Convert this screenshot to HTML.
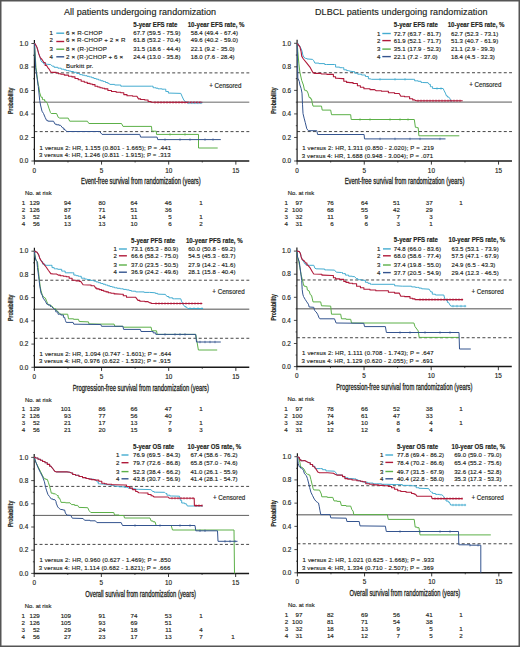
<!DOCTYPE html>
<html><head><meta charset="utf-8"><style>
html,body{margin:0;padding:0;background:#fff;}
svg{display:block;}
text{font-family:"Liberation Sans",sans-serif;fill:#231f20;stroke:#231f20;stroke-width:0.15px;}
</style></head><body>
<svg width="520" height="647" viewBox="0 0 520 647">
<rect x="0" y="0" width="520" height="647" fill="#fff"/>
<g>
<text x="64.00" y="14.50" font-size="9.0" textLength="152.0" lengthAdjust="spacing">All patients undergoing randomization</text>
<text x="315.00" y="14.50" font-size="9.0" textLength="172.5" lengthAdjust="spacing">DLBCL patients undergoing randomization</text>
<text x="133.30" y="26.60" font-size="6.3" font-weight="bold" textLength="44.2" lengthAdjust="spacingAndGlyphs">5-year EFS rate</text>
<text x="187.70" y="26.60" font-size="6.3" font-weight="bold" textLength="56.8" lengthAdjust="spacingAndGlyphs">10-year EFS rate, %</text>
<text x="133.30" y="35.35" font-size="6.0" textLength="47.2" lengthAdjust="spacing">67.7 (59.5 - 75.9)</text>
<text x="190.80" y="35.35" font-size="6.0" textLength="47.2" lengthAdjust="spacing">58.4 (49.4 - 67.4)</text>
<text x="49.60" y="35.35" font-size="6.1">1</text>
<line x1="56.30" y1="33.20" x2="64.20" y2="33.20" stroke="#44acd0" stroke-width="1.4"/>
<text x="66.00" y="35.40" font-size="6.2" textLength="36.5" lengthAdjust="spacing">6 × R-CHOP</text>
<text x="133.30" y="42.35" font-size="6.0" textLength="47.2" lengthAdjust="spacing">61.8 (53.2 - 70.4)</text>
<text x="190.80" y="42.35" font-size="6.0" textLength="47.2" lengthAdjust="spacing">49.6 (40.2 - 59.0)</text>
<text x="49.60" y="42.35" font-size="6.1">2</text>
<line x1="56.30" y1="41.50" x2="64.20" y2="41.50" stroke="#b01a3a" stroke-width="1.4"/>
<text x="66.00" y="42.40" font-size="6.2" textLength="59.4" lengthAdjust="spacing">6 × R-CHOP + 2 × R</text>
<text x="133.30" y="51.35" font-size="6.0" textLength="47.2" lengthAdjust="spacing">31.5 (18.6 - 44.4)</text>
<text x="190.80" y="51.35" font-size="6.0" textLength="43.8" lengthAdjust="spacing">22.1 (9.2 - 35.0)</text>
<text x="49.60" y="51.35" font-size="6.1">3</text>
<line x1="56.30" y1="49.20" x2="64.20" y2="49.20" stroke="#5cb048" stroke-width="1.4"/>
<text x="66.00" y="51.40" font-size="6.2" textLength="40.8" lengthAdjust="spacing">8 × (R-)CHOP</text>
<text x="133.30" y="58.95" font-size="6.0" textLength="47.2" lengthAdjust="spacing">24.4 (13.0 - 35.8)</text>
<text x="190.80" y="58.95" font-size="6.0" textLength="43.8" lengthAdjust="spacing">18.0 (7.6 - 28.4)</text>
<text x="49.60" y="58.95" font-size="6.1">4</text>
<line x1="56.30" y1="56.80" x2="64.20" y2="56.80" stroke="#34548f" stroke-width="1.4"/>
<text x="66.00" y="59.00" font-size="6.2" textLength="57.2" lengthAdjust="spacing">2 × (R-)CHOP + 6 ×</text>
<text x="66.00" y="67.60" font-size="6.2" textLength="27.3" lengthAdjust="spacing">Burkitt pr.</text>
<text x="393.80" y="26.70" font-size="6.3" font-weight="bold" textLength="44.2" lengthAdjust="spacingAndGlyphs">5-year EFS rate</text>
<text x="447.70" y="26.70" font-size="6.3" font-weight="bold" textLength="56.8" lengthAdjust="spacingAndGlyphs">10-year EFS rate, %</text>
<text x="393.80" y="35.65" font-size="6.0" textLength="47.2" lengthAdjust="spacing">72.7 (63.7 - 81.7)</text>
<text x="451.00" y="35.65" font-size="6.0" textLength="47.2" lengthAdjust="spacing">62.7 (52.3 - 73.1)</text>
<text x="376.90" y="35.65" font-size="6.1">1</text>
<line x1="382.30" y1="33.50" x2="390.80" y2="33.50" stroke="#44acd0" stroke-width="1.4"/>
<text x="393.80" y="42.75" font-size="6.0" textLength="47.2" lengthAdjust="spacing">61.9 (52.1 - 71.7)</text>
<text x="451.00" y="42.75" font-size="6.0" textLength="47.2" lengthAdjust="spacing">51.3 (40.7 - 61.9)</text>
<text x="376.90" y="42.75" font-size="6.1">2</text>
<line x1="382.30" y1="40.60" x2="390.80" y2="40.60" stroke="#b01a3a" stroke-width="1.4"/>
<text x="393.80" y="51.25" font-size="6.0" textLength="47.2" lengthAdjust="spacing">35.1 (17.9 - 52.3)</text>
<text x="451.00" y="51.25" font-size="6.0" textLength="43.8" lengthAdjust="spacing">21.1 (2.9 - 39.3)</text>
<text x="376.90" y="51.25" font-size="6.1">3</text>
<line x1="382.30" y1="49.10" x2="390.80" y2="49.10" stroke="#5cb048" stroke-width="1.4"/>
<text x="393.80" y="58.75" font-size="6.0" textLength="43.8" lengthAdjust="spacing">22.1 (7.2 - 37.0)</text>
<text x="451.00" y="58.75" font-size="6.0" textLength="43.8" lengthAdjust="spacing">18.4 (4.5 - 32.3)</text>
<text x="376.90" y="58.75" font-size="6.1">4</text>
<line x1="382.30" y1="56.60" x2="390.80" y2="56.60" stroke="#34548f" stroke-width="1.4"/>
<text x="131.00" y="242.60" font-size="6.3" font-weight="bold" textLength="44.2" lengthAdjust="spacingAndGlyphs">5-year PFS rate</text>
<text x="185.90" y="242.60" font-size="6.3" font-weight="bold" textLength="56.8" lengthAdjust="spacingAndGlyphs">10-year PFS rate, %</text>
<text x="131.00" y="251.15" font-size="6.0" textLength="47.2" lengthAdjust="spacing">73.1 (65.3 - 80.9)</text>
<text x="188.20" y="251.15" font-size="6.0" textLength="47.2" lengthAdjust="spacing">60.0 (50.8 - 69.2)</text>
<text x="113.60" y="251.15" font-size="6.1">1</text>
<line x1="118.90" y1="249.00" x2="126.90" y2="249.00" stroke="#44acd0" stroke-width="1.4"/>
<text x="131.00" y="257.95" font-size="6.0" textLength="47.2" lengthAdjust="spacing">66.6 (58.2 - 75.0)</text>
<text x="188.20" y="257.95" font-size="6.0" textLength="47.2" lengthAdjust="spacing">54.5 (45.3 - 63.7)</text>
<text x="113.60" y="257.95" font-size="6.1">2</text>
<line x1="118.90" y1="255.80" x2="126.90" y2="255.80" stroke="#b01a3a" stroke-width="1.4"/>
<text x="131.00" y="267.15" font-size="6.0" textLength="47.2" lengthAdjust="spacing">37.0 (23.5 - 50.5)</text>
<text x="188.20" y="267.15" font-size="6.0" textLength="47.2" lengthAdjust="spacing">27.9 (14.2 - 41.6)</text>
<text x="113.60" y="267.15" font-size="6.1">3</text>
<line x1="118.90" y1="265.00" x2="126.90" y2="265.00" stroke="#5cb048" stroke-width="1.4"/>
<text x="131.00" y="274.35" font-size="6.0" textLength="47.2" lengthAdjust="spacing">36.9 (24.2 - 49.6)</text>
<text x="188.20" y="274.35" font-size="6.0" textLength="47.2" lengthAdjust="spacing">28.1 (15.8 - 40.4)</text>
<text x="113.60" y="274.35" font-size="6.1">4</text>
<line x1="118.90" y1="272.20" x2="126.90" y2="272.20" stroke="#34548f" stroke-width="1.4"/>
<text x="393.80" y="242.20" font-size="6.3" font-weight="bold" textLength="44.2" lengthAdjust="spacingAndGlyphs">5-year PFS rate</text>
<text x="448.50" y="242.20" font-size="6.3" font-weight="bold" textLength="56.8" lengthAdjust="spacingAndGlyphs">10-year PFS rate, %</text>
<text x="393.80" y="251.05" font-size="6.0" textLength="47.2" lengthAdjust="spacing">74.8 (66.0 - 83.6)</text>
<text x="451.50" y="251.05" font-size="6.0" textLength="47.2" lengthAdjust="spacing">63.5 (53.1 - 73.9)</text>
<text x="376.90" y="251.05" font-size="6.1">1</text>
<line x1="383.00" y1="248.90" x2="390.80" y2="248.90" stroke="#44acd0" stroke-width="1.4"/>
<text x="393.80" y="257.95" font-size="6.0" textLength="47.2" lengthAdjust="spacing">68.0 (58.6 - 77.4)</text>
<text x="451.50" y="257.95" font-size="6.0" textLength="47.2" lengthAdjust="spacing">57.5 (47.1 - 67.9)</text>
<text x="376.90" y="257.95" font-size="6.1">2</text>
<line x1="383.00" y1="255.80" x2="390.80" y2="255.80" stroke="#b01a3a" stroke-width="1.4"/>
<text x="393.80" y="267.15" font-size="6.0" textLength="47.2" lengthAdjust="spacing">37.4 (19.8 - 55.0)</text>
<text x="451.50" y="267.15" font-size="6.0" textLength="43.8" lengthAdjust="spacing">24.9 (6.5 - 43.3)</text>
<text x="376.90" y="267.15" font-size="6.1">3</text>
<line x1="383.00" y1="265.00" x2="390.80" y2="265.00" stroke="#5cb048" stroke-width="1.4"/>
<text x="393.80" y="274.75" font-size="6.0" textLength="47.2" lengthAdjust="spacing">37.7 (20.5 - 54.9)</text>
<text x="451.50" y="274.75" font-size="6.0" textLength="47.2" lengthAdjust="spacing">29.4 (12.3 - 46.5)</text>
<text x="376.90" y="274.75" font-size="6.1">4</text>
<line x1="383.00" y1="272.60" x2="390.80" y2="272.60" stroke="#34548f" stroke-width="1.4"/>
<text x="133.00" y="448.70" font-size="6.3" font-weight="bold" textLength="41.2" lengthAdjust="spacingAndGlyphs">5-year OS rate</text>
<text x="187.60" y="448.70" font-size="6.3" font-weight="bold" textLength="53.7" lengthAdjust="spacingAndGlyphs">10-year OS rate, %</text>
<text x="133.00" y="457.15" font-size="6.0" textLength="47.2" lengthAdjust="spacing">76.9 (69.5 - 84.3)</text>
<text x="190.40" y="457.15" font-size="6.0" textLength="47.2" lengthAdjust="spacing">67.4 (58.6 - 76.2)</text>
<text x="116.00" y="457.15" font-size="6.1">1</text>
<line x1="121.50" y1="455.00" x2="128.50" y2="455.00" stroke="#44acd0" stroke-width="1.4"/>
<text x="133.00" y="464.85" font-size="6.0" textLength="47.2" lengthAdjust="spacing">79.7 (72.6 - 86.8)</text>
<text x="190.40" y="464.85" font-size="6.0" textLength="47.2" lengthAdjust="spacing">65.8 (57.0 - 74.6)</text>
<text x="116.00" y="464.85" font-size="6.1">2</text>
<line x1="121.50" y1="462.70" x2="128.50" y2="462.70" stroke="#b01a3a" stroke-width="1.4"/>
<text x="133.00" y="473.75" font-size="6.0" textLength="47.2" lengthAdjust="spacing">52.3 (38.4 - 66.2)</text>
<text x="190.40" y="473.75" font-size="6.0" textLength="47.2" lengthAdjust="spacing">41.0 (26.1 - 55.9)</text>
<text x="116.00" y="473.75" font-size="6.1">3</text>
<line x1="121.50" y1="471.60" x2="128.50" y2="471.60" stroke="#5cb048" stroke-width="1.4"/>
<text x="133.00" y="480.95" font-size="6.0" textLength="47.2" lengthAdjust="spacing">43.8 (30.7 - 56.9)</text>
<text x="190.40" y="480.95" font-size="6.0" textLength="47.2" lengthAdjust="spacing">41.4 (28.1 - 54.7)</text>
<text x="116.00" y="480.95" font-size="6.1">4</text>
<line x1="121.50" y1="478.80" x2="128.50" y2="478.80" stroke="#34548f" stroke-width="1.4"/>
<text x="396.90" y="448.70" font-size="6.3" font-weight="bold" textLength="41.2" lengthAdjust="spacingAndGlyphs">5-year OS rate</text>
<text x="451.50" y="448.70" font-size="6.3" font-weight="bold" textLength="53.7" lengthAdjust="spacingAndGlyphs">10-year OS rate, %</text>
<text x="396.90" y="457.15" font-size="6.0" textLength="47.2" lengthAdjust="spacing">77.8 (69.4 - 86.2)</text>
<text x="454.20" y="457.15" font-size="6.0" textLength="47.2" lengthAdjust="spacing">69.0 (59.0 - 79.0)</text>
<text x="380.00" y="457.15" font-size="6.1">1</text>
<line x1="385.40" y1="455.00" x2="393.10" y2="455.00" stroke="#44acd0" stroke-width="1.4"/>
<text x="396.90" y="464.55" font-size="6.0" textLength="47.2" lengthAdjust="spacing">78.4 (70.2 - 86.6)</text>
<text x="454.20" y="464.55" font-size="6.0" textLength="47.2" lengthAdjust="spacing">65.4 (55.2 - 75.6)</text>
<text x="380.00" y="464.55" font-size="6.1">2</text>
<line x1="385.40" y1="462.40" x2="393.10" y2="462.40" stroke="#b01a3a" stroke-width="1.4"/>
<text x="396.90" y="473.65" font-size="6.0" textLength="47.2" lengthAdjust="spacing">49.7 (31.5 - 67.9)</text>
<text x="454.20" y="473.65" font-size="6.0" textLength="47.2" lengthAdjust="spacing">32.6 (12.4 - 52.8)</text>
<text x="380.00" y="473.65" font-size="6.1">3</text>
<line x1="385.40" y1="471.50" x2="393.10" y2="471.50" stroke="#5cb048" stroke-width="1.4"/>
<text x="396.90" y="480.95" font-size="6.0" textLength="47.2" lengthAdjust="spacing">40.4 (22.8 - 58.0)</text>
<text x="454.20" y="480.95" font-size="6.0" textLength="47.2" lengthAdjust="spacing">35.3 (17.3 - 53.3)</text>
<text x="380.00" y="480.95" font-size="6.1">4</text>
<line x1="385.40" y1="478.80" x2="393.10" y2="478.80" stroke="#34548f" stroke-width="1.4"/>
<text x="209.20" y="87.80" font-size="6.7" textLength="32.3" lengthAdjust="spacingAndGlyphs">+ Censored</text>
<text x="469.20" y="87.30" font-size="6.7" textLength="32.3" lengthAdjust="spacingAndGlyphs">+ Censored</text>
<text x="212.30" y="294.30" font-size="6.7" textLength="32.3" lengthAdjust="spacingAndGlyphs">+ Censored</text>
<text x="471.50" y="293.90" font-size="6.7" textLength="32.3" lengthAdjust="spacingAndGlyphs">+ Censored</text>
<text x="213.00" y="500.40" font-size="6.7" textLength="32.3" lengthAdjust="spacingAndGlyphs">+ Censored</text>
<text x="471.50" y="499.80" font-size="6.7" textLength="32.3" lengthAdjust="spacingAndGlyphs">+ Censored</text>
<line x1="34.40" y1="102.25" x2="249.28" y2="102.25" stroke="#9a9a9a" stroke-width="1.6"/>
<line x1="34.40" y1="72.88" x2="249.28" y2="72.88" stroke="#474747" stroke-width="1.0" stroke-dasharray="3 2.3"/>
<line x1="34.40" y1="131.62" x2="249.28" y2="131.62" stroke="#474747" stroke-width="1.0" stroke-dasharray="3 2.3"/>
<line x1="34.40" y1="161.00" x2="34.40" y2="40.00" stroke="#1a1a1a" stroke-width="1.2"/>
<line x1="33.90" y1="161.00" x2="249.28" y2="161.00" stroke="#1a1a1a" stroke-width="1.5"/>
<line x1="31.40" y1="161.00" x2="34.40" y2="161.00" stroke="#222" stroke-width="0.8"/>
<text x="28.40" y="163.25" font-size="6.4" text-anchor="end">0.0</text>
<line x1="31.40" y1="137.50" x2="34.40" y2="137.50" stroke="#222" stroke-width="0.8"/>
<text x="28.40" y="139.75" font-size="6.4" text-anchor="end">0.2</text>
<line x1="31.40" y1="114.00" x2="34.40" y2="114.00" stroke="#222" stroke-width="0.8"/>
<text x="28.40" y="116.25" font-size="6.4" text-anchor="end">0.4</text>
<line x1="31.40" y1="90.50" x2="34.40" y2="90.50" stroke="#222" stroke-width="0.8"/>
<text x="28.40" y="92.75" font-size="6.4" text-anchor="end">0.6</text>
<line x1="31.40" y1="67.00" x2="34.40" y2="67.00" stroke="#222" stroke-width="0.8"/>
<text x="28.40" y="69.25" font-size="6.4" text-anchor="end">0.8</text>
<line x1="31.40" y1="43.50" x2="34.40" y2="43.50" stroke="#222" stroke-width="0.8"/>
<text x="28.40" y="45.75" font-size="6.4" text-anchor="end">1.0</text>
<line x1="33.10" y1="149.25" x2="34.40" y2="149.25" stroke="#222" stroke-width="0.8"/>
<line x1="33.10" y1="125.75" x2="34.40" y2="125.75" stroke="#222" stroke-width="0.8"/>
<line x1="33.10" y1="102.25" x2="34.40" y2="102.25" stroke="#222" stroke-width="0.8"/>
<line x1="33.10" y1="78.75" x2="34.40" y2="78.75" stroke="#222" stroke-width="0.8"/>
<line x1="33.10" y1="55.25" x2="34.40" y2="55.25" stroke="#222" stroke-width="0.8"/>
<line x1="34.40" y1="161.00" x2="34.40" y2="164.60" stroke="#222" stroke-width="0.9"/>
<text x="34.40" y="172.60" font-size="6.4" text-anchor="middle">0</text>
<line x1="101.55" y1="161.00" x2="101.55" y2="164.60" stroke="#222" stroke-width="0.9"/>
<text x="101.55" y="172.60" font-size="6.4" text-anchor="middle">5</text>
<line x1="168.70" y1="161.00" x2="168.70" y2="164.60" stroke="#222" stroke-width="0.9"/>
<text x="168.70" y="172.60" font-size="6.4" text-anchor="middle">10</text>
<line x1="235.85" y1="161.00" x2="235.85" y2="164.60" stroke="#222" stroke-width="0.9"/>
<text x="235.85" y="172.60" font-size="6.4" text-anchor="middle">15</text>
<line x1="67.97" y1="161.00" x2="67.97" y2="162.50" stroke="#222" stroke-width="0.8"/>
<line x1="135.12" y1="161.00" x2="135.12" y2="162.50" stroke="#222" stroke-width="0.8"/>
<line x1="202.28" y1="161.00" x2="202.28" y2="162.50" stroke="#222" stroke-width="0.8"/>
<text x="0" y="0" font-size="7.4" text-anchor="middle" textLength="26.4" lengthAdjust="spacingAndGlyphs" transform="translate(13.00,100.75) rotate(-90)" font-weight="bold">Probability</text>
<text x="140.84" y="184.40" font-size="8.9" text-anchor="middle" textLength="119.7" lengthAdjust="spacingAndGlyphs" style="stroke-width:0.3px">Event-free survival from randomization (years)</text>
<line x1="297.10" y1="102.15" x2="511.98" y2="102.15" stroke="#a0a0a0" stroke-width="1.8"/>
<line x1="297.10" y1="72.72" x2="511.98" y2="72.72" stroke="#474747" stroke-width="1.0" stroke-dasharray="3 2.3"/>
<line x1="297.10" y1="131.57" x2="511.98" y2="131.57" stroke="#474747" stroke-width="1.0" stroke-dasharray="3 2.3"/>
<line x1="297.10" y1="161.00" x2="297.10" y2="39.80" stroke="#1a1a1a" stroke-width="1.2"/>
<line x1="296.60" y1="161.00" x2="511.98" y2="161.00" stroke="#1a1a1a" stroke-width="1.5"/>
<line x1="294.10" y1="161.00" x2="297.10" y2="161.00" stroke="#222" stroke-width="0.8"/>
<text x="291.10" y="163.25" font-size="6.4" text-anchor="end">0.0</text>
<line x1="294.10" y1="137.46" x2="297.10" y2="137.46" stroke="#222" stroke-width="0.8"/>
<text x="291.10" y="139.71" font-size="6.4" text-anchor="end">0.2</text>
<line x1="294.10" y1="113.92" x2="297.10" y2="113.92" stroke="#222" stroke-width="0.8"/>
<text x="291.10" y="116.17" font-size="6.4" text-anchor="end">0.4</text>
<line x1="294.10" y1="90.38" x2="297.10" y2="90.38" stroke="#222" stroke-width="0.8"/>
<text x="291.10" y="92.63" font-size="6.4" text-anchor="end">0.6</text>
<line x1="294.10" y1="66.84" x2="297.10" y2="66.84" stroke="#222" stroke-width="0.8"/>
<text x="291.10" y="69.09" font-size="6.4" text-anchor="end">0.8</text>
<line x1="294.10" y1="43.30" x2="297.10" y2="43.30" stroke="#222" stroke-width="0.8"/>
<text x="291.10" y="45.55" font-size="6.4" text-anchor="end">1.0</text>
<line x1="295.80" y1="149.23" x2="297.10" y2="149.23" stroke="#222" stroke-width="0.8"/>
<line x1="295.80" y1="125.69" x2="297.10" y2="125.69" stroke="#222" stroke-width="0.8"/>
<line x1="295.80" y1="102.15" x2="297.10" y2="102.15" stroke="#222" stroke-width="0.8"/>
<line x1="295.80" y1="78.61" x2="297.10" y2="78.61" stroke="#222" stroke-width="0.8"/>
<line x1="295.80" y1="55.07" x2="297.10" y2="55.07" stroke="#222" stroke-width="0.8"/>
<line x1="297.10" y1="161.00" x2="297.10" y2="164.60" stroke="#222" stroke-width="0.9"/>
<text x="297.10" y="172.60" font-size="6.4" text-anchor="middle">0</text>
<line x1="364.25" y1="161.00" x2="364.25" y2="164.60" stroke="#222" stroke-width="0.9"/>
<text x="364.25" y="172.60" font-size="6.4" text-anchor="middle">5</text>
<line x1="431.40" y1="161.00" x2="431.40" y2="164.60" stroke="#222" stroke-width="0.9"/>
<text x="431.40" y="172.60" font-size="6.4" text-anchor="middle">10</text>
<line x1="498.55" y1="161.00" x2="498.55" y2="164.60" stroke="#222" stroke-width="0.9"/>
<text x="498.55" y="172.60" font-size="6.4" text-anchor="middle">15</text>
<line x1="330.68" y1="161.00" x2="330.68" y2="162.50" stroke="#222" stroke-width="0.8"/>
<line x1="397.83" y1="161.00" x2="397.83" y2="162.50" stroke="#222" stroke-width="0.8"/>
<line x1="464.98" y1="161.00" x2="464.98" y2="162.50" stroke="#222" stroke-width="0.8"/>
<text x="0" y="0" font-size="7.4" text-anchor="middle" textLength="26.4" lengthAdjust="spacingAndGlyphs" transform="translate(275.70,100.65) rotate(-90)" font-weight="bold">Probability</text>
<text x="404.54" y="184.40" font-size="8.9" text-anchor="middle" textLength="119.7" lengthAdjust="spacingAndGlyphs" style="stroke-width:0.3px">Event-free survival from randomization (years)</text>
<line x1="34.40" y1="309.25" x2="249.28" y2="309.25" stroke="#8a8a8a" stroke-width="1.4"/>
<line x1="34.40" y1="280.23" x2="249.28" y2="280.23" stroke="#474747" stroke-width="1.0" stroke-dasharray="3 2.3"/>
<line x1="34.40" y1="338.27" x2="249.28" y2="338.27" stroke="#474747" stroke-width="1.0" stroke-dasharray="3 2.3"/>
<line x1="34.40" y1="367.30" x2="34.40" y2="247.70" stroke="#1a1a1a" stroke-width="1.2"/>
<line x1="33.90" y1="367.30" x2="249.28" y2="367.30" stroke="#1a1a1a" stroke-width="1.5"/>
<line x1="31.40" y1="367.30" x2="34.40" y2="367.30" stroke="#222" stroke-width="0.8"/>
<text x="28.40" y="369.55" font-size="6.4" text-anchor="end">0.0</text>
<line x1="31.40" y1="344.08" x2="34.40" y2="344.08" stroke="#222" stroke-width="0.8"/>
<text x="28.40" y="346.33" font-size="6.4" text-anchor="end">0.2</text>
<line x1="31.40" y1="320.86" x2="34.40" y2="320.86" stroke="#222" stroke-width="0.8"/>
<text x="28.40" y="323.11" font-size="6.4" text-anchor="end">0.4</text>
<line x1="31.40" y1="297.64" x2="34.40" y2="297.64" stroke="#222" stroke-width="0.8"/>
<text x="28.40" y="299.89" font-size="6.4" text-anchor="end">0.6</text>
<line x1="31.40" y1="274.42" x2="34.40" y2="274.42" stroke="#222" stroke-width="0.8"/>
<text x="28.40" y="276.67" font-size="6.4" text-anchor="end">0.8</text>
<line x1="31.40" y1="251.20" x2="34.40" y2="251.20" stroke="#222" stroke-width="0.8"/>
<text x="28.40" y="253.45" font-size="6.4" text-anchor="end">1.0</text>
<line x1="33.10" y1="355.69" x2="34.40" y2="355.69" stroke="#222" stroke-width="0.8"/>
<line x1="33.10" y1="332.47" x2="34.40" y2="332.47" stroke="#222" stroke-width="0.8"/>
<line x1="33.10" y1="309.25" x2="34.40" y2="309.25" stroke="#222" stroke-width="0.8"/>
<line x1="33.10" y1="286.03" x2="34.40" y2="286.03" stroke="#222" stroke-width="0.8"/>
<line x1="33.10" y1="262.81" x2="34.40" y2="262.81" stroke="#222" stroke-width="0.8"/>
<line x1="34.40" y1="367.30" x2="34.40" y2="370.90" stroke="#222" stroke-width="0.9"/>
<text x="34.40" y="378.90" font-size="6.4" text-anchor="middle">0</text>
<line x1="101.55" y1="367.30" x2="101.55" y2="370.90" stroke="#222" stroke-width="0.9"/>
<text x="101.55" y="378.90" font-size="6.4" text-anchor="middle">5</text>
<line x1="168.70" y1="367.30" x2="168.70" y2="370.90" stroke="#222" stroke-width="0.9"/>
<text x="168.70" y="378.90" font-size="6.4" text-anchor="middle">10</text>
<line x1="235.85" y1="367.30" x2="235.85" y2="370.90" stroke="#222" stroke-width="0.9"/>
<text x="235.85" y="378.90" font-size="6.4" text-anchor="middle">15</text>
<line x1="67.97" y1="367.30" x2="67.97" y2="368.80" stroke="#222" stroke-width="0.8"/>
<line x1="135.12" y1="367.30" x2="135.12" y2="368.80" stroke="#222" stroke-width="0.8"/>
<line x1="202.28" y1="367.30" x2="202.28" y2="368.80" stroke="#222" stroke-width="0.8"/>
<text x="0" y="0" font-size="7.4" text-anchor="middle" textLength="26.4" lengthAdjust="spacingAndGlyphs" transform="translate(13.00,307.75) rotate(-90)" font-weight="bold">Probability</text>
<text x="140.84" y="390.70" font-size="8.9" text-anchor="middle" textLength="136.3" lengthAdjust="spacingAndGlyphs" style="stroke-width:0.3px">Progression-free survival from randomization (years)</text>
<line x1="296.90" y1="308.85" x2="511.78" y2="308.85" stroke="#8a8a8a" stroke-width="1.5"/>
<line x1="296.90" y1="279.98" x2="511.78" y2="279.98" stroke="#474747" stroke-width="1.0" stroke-dasharray="3 2.3"/>
<line x1="296.90" y1="337.73" x2="511.78" y2="337.73" stroke="#474747" stroke-width="1.0" stroke-dasharray="3 2.3"/>
<line x1="296.90" y1="366.60" x2="296.90" y2="247.60" stroke="#1a1a1a" stroke-width="1.2"/>
<line x1="296.40" y1="366.60" x2="511.78" y2="366.60" stroke="#1a1a1a" stroke-width="1.5"/>
<line x1="293.90" y1="366.60" x2="296.90" y2="366.60" stroke="#222" stroke-width="0.8"/>
<text x="290.90" y="368.85" font-size="6.4" text-anchor="end">0.0</text>
<line x1="293.90" y1="343.50" x2="296.90" y2="343.50" stroke="#222" stroke-width="0.8"/>
<text x="290.90" y="345.75" font-size="6.4" text-anchor="end">0.2</text>
<line x1="293.90" y1="320.40" x2="296.90" y2="320.40" stroke="#222" stroke-width="0.8"/>
<text x="290.90" y="322.65" font-size="6.4" text-anchor="end">0.4</text>
<line x1="293.90" y1="297.30" x2="296.90" y2="297.30" stroke="#222" stroke-width="0.8"/>
<text x="290.90" y="299.55" font-size="6.4" text-anchor="end">0.6</text>
<line x1="293.90" y1="274.20" x2="296.90" y2="274.20" stroke="#222" stroke-width="0.8"/>
<text x="290.90" y="276.45" font-size="6.4" text-anchor="end">0.8</text>
<line x1="293.90" y1="251.10" x2="296.90" y2="251.10" stroke="#222" stroke-width="0.8"/>
<text x="290.90" y="253.35" font-size="6.4" text-anchor="end">1.0</text>
<line x1="295.60" y1="355.05" x2="296.90" y2="355.05" stroke="#222" stroke-width="0.8"/>
<line x1="295.60" y1="331.95" x2="296.90" y2="331.95" stroke="#222" stroke-width="0.8"/>
<line x1="295.60" y1="308.85" x2="296.90" y2="308.85" stroke="#222" stroke-width="0.8"/>
<line x1="295.60" y1="285.75" x2="296.90" y2="285.75" stroke="#222" stroke-width="0.8"/>
<line x1="295.60" y1="262.65" x2="296.90" y2="262.65" stroke="#222" stroke-width="0.8"/>
<line x1="296.90" y1="366.60" x2="296.90" y2="370.20" stroke="#222" stroke-width="0.9"/>
<text x="296.90" y="378.20" font-size="6.4" text-anchor="middle">0</text>
<line x1="364.05" y1="366.60" x2="364.05" y2="370.20" stroke="#222" stroke-width="0.9"/>
<text x="364.05" y="378.20" font-size="6.4" text-anchor="middle">5</text>
<line x1="431.20" y1="366.60" x2="431.20" y2="370.20" stroke="#222" stroke-width="0.9"/>
<text x="431.20" y="378.20" font-size="6.4" text-anchor="middle">10</text>
<line x1="498.35" y1="366.60" x2="498.35" y2="370.20" stroke="#222" stroke-width="0.9"/>
<text x="498.35" y="378.20" font-size="6.4" text-anchor="middle">15</text>
<line x1="330.47" y1="366.60" x2="330.47" y2="368.10" stroke="#222" stroke-width="0.8"/>
<line x1="397.62" y1="366.60" x2="397.62" y2="368.10" stroke="#222" stroke-width="0.8"/>
<line x1="464.77" y1="366.60" x2="464.77" y2="368.10" stroke="#222" stroke-width="0.8"/>
<text x="0" y="0" font-size="7.4" text-anchor="middle" textLength="26.4" lengthAdjust="spacingAndGlyphs" transform="translate(275.50,307.35) rotate(-90)" font-weight="bold">Probability</text>
<text x="404.34" y="390.00" font-size="8.9" text-anchor="middle" textLength="136.3" lengthAdjust="spacingAndGlyphs" style="stroke-width:0.3px">Progression-free survival from randomization (years)</text>
<line x1="34.20" y1="515.40" x2="249.08" y2="515.40" stroke="#606060" stroke-width="1.0"/>
<line x1="34.20" y1="486.40" x2="249.08" y2="486.40" stroke="#474747" stroke-width="1.0" stroke-dasharray="3 2.3"/>
<line x1="34.20" y1="544.40" x2="249.08" y2="544.40" stroke="#474747" stroke-width="1.0" stroke-dasharray="3 2.3"/>
<line x1="34.20" y1="573.40" x2="34.20" y2="453.90" stroke="#1a1a1a" stroke-width="1.2"/>
<line x1="33.70" y1="573.40" x2="249.08" y2="573.40" stroke="#1a1a1a" stroke-width="1.5"/>
<line x1="31.20" y1="573.40" x2="34.20" y2="573.40" stroke="#222" stroke-width="0.8"/>
<text x="28.20" y="575.65" font-size="6.4" text-anchor="end">0.0</text>
<line x1="31.20" y1="550.20" x2="34.20" y2="550.20" stroke="#222" stroke-width="0.8"/>
<text x="28.20" y="552.45" font-size="6.4" text-anchor="end">0.2</text>
<line x1="31.20" y1="527.00" x2="34.20" y2="527.00" stroke="#222" stroke-width="0.8"/>
<text x="28.20" y="529.25" font-size="6.4" text-anchor="end">0.4</text>
<line x1="31.20" y1="503.80" x2="34.20" y2="503.80" stroke="#222" stroke-width="0.8"/>
<text x="28.20" y="506.05" font-size="6.4" text-anchor="end">0.6</text>
<line x1="31.20" y1="480.60" x2="34.20" y2="480.60" stroke="#222" stroke-width="0.8"/>
<text x="28.20" y="482.85" font-size="6.4" text-anchor="end">0.8</text>
<line x1="31.20" y1="457.40" x2="34.20" y2="457.40" stroke="#222" stroke-width="0.8"/>
<text x="28.20" y="459.65" font-size="6.4" text-anchor="end">1.0</text>
<line x1="32.90" y1="561.80" x2="34.20" y2="561.80" stroke="#222" stroke-width="0.8"/>
<line x1="32.90" y1="538.60" x2="34.20" y2="538.60" stroke="#222" stroke-width="0.8"/>
<line x1="32.90" y1="515.40" x2="34.20" y2="515.40" stroke="#222" stroke-width="0.8"/>
<line x1="32.90" y1="492.20" x2="34.20" y2="492.20" stroke="#222" stroke-width="0.8"/>
<line x1="32.90" y1="469.00" x2="34.20" y2="469.00" stroke="#222" stroke-width="0.8"/>
<line x1="34.20" y1="573.40" x2="34.20" y2="577.00" stroke="#222" stroke-width="0.9"/>
<text x="34.20" y="585.00" font-size="6.4" text-anchor="middle">0</text>
<line x1="101.35" y1="573.40" x2="101.35" y2="577.00" stroke="#222" stroke-width="0.9"/>
<text x="101.35" y="585.00" font-size="6.4" text-anchor="middle">5</text>
<line x1="168.50" y1="573.40" x2="168.50" y2="577.00" stroke="#222" stroke-width="0.9"/>
<text x="168.50" y="585.00" font-size="6.4" text-anchor="middle">10</text>
<line x1="235.65" y1="573.40" x2="235.65" y2="577.00" stroke="#222" stroke-width="0.9"/>
<text x="235.65" y="585.00" font-size="6.4" text-anchor="middle">15</text>
<line x1="67.78" y1="573.40" x2="67.78" y2="574.90" stroke="#222" stroke-width="0.8"/>
<line x1="134.93" y1="573.40" x2="134.93" y2="574.90" stroke="#222" stroke-width="0.8"/>
<line x1="202.07" y1="573.40" x2="202.07" y2="574.90" stroke="#222" stroke-width="0.8"/>
<text x="0" y="0" font-size="7.4" text-anchor="middle" textLength="26.4" lengthAdjust="spacingAndGlyphs" transform="translate(12.80,513.90) rotate(-90)" font-weight="bold">Probability</text>
<text x="140.64" y="596.80" font-size="8.9" text-anchor="middle" textLength="110.8" lengthAdjust="spacingAndGlyphs" style="stroke-width:0.3px">Overall survival from randomization (years)</text>
<line x1="297.40" y1="514.75" x2="512.28" y2="514.75" stroke="#8a8a8a" stroke-width="1.5"/>
<line x1="297.40" y1="485.72" x2="512.28" y2="485.72" stroke="#474747" stroke-width="1.0" stroke-dasharray="3 2.3"/>
<line x1="297.40" y1="543.77" x2="512.28" y2="543.77" stroke="#474747" stroke-width="1.0" stroke-dasharray="3 2.3"/>
<line x1="297.40" y1="572.80" x2="297.40" y2="453.20" stroke="#1a1a1a" stroke-width="1.2"/>
<line x1="296.90" y1="572.80" x2="512.28" y2="572.80" stroke="#1a1a1a" stroke-width="1.5"/>
<line x1="294.40" y1="572.80" x2="297.40" y2="572.80" stroke="#222" stroke-width="0.8"/>
<text x="291.40" y="575.05" font-size="6.4" text-anchor="end">0.0</text>
<line x1="294.40" y1="549.58" x2="297.40" y2="549.58" stroke="#222" stroke-width="0.8"/>
<text x="291.40" y="551.83" font-size="6.4" text-anchor="end">0.2</text>
<line x1="294.40" y1="526.36" x2="297.40" y2="526.36" stroke="#222" stroke-width="0.8"/>
<text x="291.40" y="528.61" font-size="6.4" text-anchor="end">0.4</text>
<line x1="294.40" y1="503.14" x2="297.40" y2="503.14" stroke="#222" stroke-width="0.8"/>
<text x="291.40" y="505.39" font-size="6.4" text-anchor="end">0.6</text>
<line x1="294.40" y1="479.92" x2="297.40" y2="479.92" stroke="#222" stroke-width="0.8"/>
<text x="291.40" y="482.17" font-size="6.4" text-anchor="end">0.8</text>
<line x1="294.40" y1="456.70" x2="297.40" y2="456.70" stroke="#222" stroke-width="0.8"/>
<text x="291.40" y="458.95" font-size="6.4" text-anchor="end">1.0</text>
<line x1="296.10" y1="561.19" x2="297.40" y2="561.19" stroke="#222" stroke-width="0.8"/>
<line x1="296.10" y1="537.97" x2="297.40" y2="537.97" stroke="#222" stroke-width="0.8"/>
<line x1="296.10" y1="514.75" x2="297.40" y2="514.75" stroke="#222" stroke-width="0.8"/>
<line x1="296.10" y1="491.53" x2="297.40" y2="491.53" stroke="#222" stroke-width="0.8"/>
<line x1="296.10" y1="468.31" x2="297.40" y2="468.31" stroke="#222" stroke-width="0.8"/>
<line x1="297.40" y1="572.80" x2="297.40" y2="576.40" stroke="#222" stroke-width="0.9"/>
<text x="297.40" y="584.40" font-size="6.4" text-anchor="middle">0</text>
<line x1="364.55" y1="572.80" x2="364.55" y2="576.40" stroke="#222" stroke-width="0.9"/>
<text x="364.55" y="584.40" font-size="6.4" text-anchor="middle">5</text>
<line x1="431.70" y1="572.80" x2="431.70" y2="576.40" stroke="#222" stroke-width="0.9"/>
<text x="431.70" y="584.40" font-size="6.4" text-anchor="middle">10</text>
<line x1="498.85" y1="572.80" x2="498.85" y2="576.40" stroke="#222" stroke-width="0.9"/>
<text x="498.85" y="584.40" font-size="6.4" text-anchor="middle">15</text>
<line x1="330.97" y1="572.80" x2="330.97" y2="574.30" stroke="#222" stroke-width="0.8"/>
<line x1="398.12" y1="572.80" x2="398.12" y2="574.30" stroke="#222" stroke-width="0.8"/>
<line x1="465.27" y1="572.80" x2="465.27" y2="574.30" stroke="#222" stroke-width="0.8"/>
<text x="0" y="0" font-size="7.4" text-anchor="middle" textLength="26.4" lengthAdjust="spacingAndGlyphs" transform="translate(276.00,513.25) rotate(-90)" font-weight="bold">Probability</text>
<text x="404.84" y="596.20" font-size="8.9" text-anchor="middle" textLength="110.8" lengthAdjust="spacingAndGlyphs" style="stroke-width:0.3px">Overall survival from randomization (years)</text>
<text x="39.60" y="150.15" font-size="6.0" textLength="131.5" lengthAdjust="spacing">1 versus 2: HR, 1.155 (0.801 - 1.665); P = .441</text>
<text x="39.00" y="157.45" font-size="6.0" textLength="131.5" lengthAdjust="spacing">3 versus 4: HR, 1.246 (0.811 - 1.915); P = .313</text>
<text x="25.00" y="195.30" font-size="6.2" textLength="26.6" lengthAdjust="spacingAndGlyphs">No. at risk</text>
<text x="21.70" y="205.10" font-size="6.2">1</text>
<text x="39.80" y="205.10" font-size="6.2" text-anchor="end">129</text>
<text x="71.00" y="205.10" font-size="6.2" text-anchor="end">94</text>
<text x="105.50" y="205.10" font-size="6.2" text-anchor="end">80</text>
<text x="137.50" y="205.10" font-size="6.2" text-anchor="end">64</text>
<text x="171.60" y="205.10" font-size="6.2" text-anchor="end">46</text>
<text x="202.70" y="205.10" font-size="6.2" text-anchor="end">1</text>
<text x="21.70" y="212.05" font-size="6.2">2</text>
<text x="39.80" y="212.05" font-size="6.2" text-anchor="end">126</text>
<text x="71.00" y="212.05" font-size="6.2" text-anchor="end">87</text>
<text x="105.50" y="212.05" font-size="6.2" text-anchor="end">71</text>
<text x="137.50" y="212.05" font-size="6.2" text-anchor="end">51</text>
<text x="171.60" y="212.05" font-size="6.2" text-anchor="end">36</text>
<text x="21.70" y="219.00" font-size="6.2">3</text>
<text x="39.80" y="219.00" font-size="6.2" text-anchor="end">52</text>
<text x="71.00" y="219.00" font-size="6.2" text-anchor="end">16</text>
<text x="105.50" y="219.00" font-size="6.2" text-anchor="end">14</text>
<text x="137.50" y="219.00" font-size="6.2" text-anchor="end">11</text>
<text x="171.60" y="219.00" font-size="6.2" text-anchor="end">5</text>
<text x="202.70" y="219.00" font-size="6.2" text-anchor="end">1</text>
<text x="21.70" y="225.95" font-size="6.2">4</text>
<text x="39.80" y="225.95" font-size="6.2" text-anchor="end">56</text>
<text x="71.00" y="225.95" font-size="6.2" text-anchor="end">13</text>
<text x="105.50" y="225.95" font-size="6.2" text-anchor="end">13</text>
<text x="137.50" y="225.95" font-size="6.2" text-anchor="end">10</text>
<text x="171.60" y="225.95" font-size="6.2" text-anchor="end">6</text>
<text x="202.70" y="225.95" font-size="6.2" text-anchor="end">2</text>
<text x="302.30" y="149.85" font-size="6.0" textLength="131.5" lengthAdjust="spacing">1 versus 2: HR, 1.311 (0.850 - 2.020); P = .219</text>
<text x="301.70" y="157.55" font-size="6.0" textLength="131.5" lengthAdjust="spacing">3 versus 4: HR, 1.688 (0.948 - 3.004); P = .071</text>
<text x="287.70" y="195.30" font-size="6.2" textLength="26.6" lengthAdjust="spacingAndGlyphs">No. at risk</text>
<text x="284.40" y="205.10" font-size="6.2">1</text>
<text x="302.40" y="205.10" font-size="6.2" text-anchor="end">97</text>
<text x="333.80" y="205.10" font-size="6.2" text-anchor="end">76</text>
<text x="368.00" y="205.10" font-size="6.2" text-anchor="end">64</text>
<text x="400.00" y="205.10" font-size="6.2" text-anchor="end">51</text>
<text x="432.70" y="205.10" font-size="6.2" text-anchor="end">37</text>
<text x="462.70" y="205.10" font-size="6.2" text-anchor="end">1</text>
<text x="284.40" y="212.05" font-size="6.2">2</text>
<text x="302.40" y="212.05" font-size="6.2" text-anchor="end">100</text>
<text x="333.80" y="212.05" font-size="6.2" text-anchor="end">68</text>
<text x="368.00" y="212.05" font-size="6.2" text-anchor="end">55</text>
<text x="400.00" y="212.05" font-size="6.2" text-anchor="end">42</text>
<text x="432.70" y="212.05" font-size="6.2" text-anchor="end">29</text>
<text x="284.40" y="219.00" font-size="6.2">3</text>
<text x="302.40" y="219.00" font-size="6.2" text-anchor="end">32</text>
<text x="333.80" y="219.00" font-size="6.2" text-anchor="end">11</text>
<text x="368.00" y="219.00" font-size="6.2" text-anchor="end">9</text>
<text x="400.00" y="219.00" font-size="6.2" text-anchor="end">7</text>
<text x="432.70" y="219.00" font-size="6.2" text-anchor="end">3</text>
<text x="284.40" y="225.95" font-size="6.2">4</text>
<text x="302.40" y="225.95" font-size="6.2" text-anchor="end">31</text>
<text x="333.80" y="225.95" font-size="6.2" text-anchor="end">6</text>
<text x="368.00" y="225.95" font-size="6.2" text-anchor="end">6</text>
<text x="400.00" y="225.95" font-size="6.2" text-anchor="end">3</text>
<text x="432.70" y="225.95" font-size="6.2" text-anchor="end">1</text>
<text x="39.60" y="355.75" font-size="6.0" textLength="131.5" lengthAdjust="spacing">1 versus 2: HR, 1.094 (0.747 - 1.601); P = .644</text>
<text x="39.00" y="362.95" font-size="6.0" textLength="131.5" lengthAdjust="spacing">3 versus 4: HR, 0.976 (0.622 - 1.532); P = .915</text>
<text x="25.00" y="401.60" font-size="6.2" textLength="26.6" lengthAdjust="spacingAndGlyphs">No. at risk</text>
<text x="21.70" y="411.40" font-size="6.2">1</text>
<text x="39.80" y="411.40" font-size="6.2" text-anchor="end">129</text>
<text x="71.00" y="411.40" font-size="6.2" text-anchor="end">101</text>
<text x="105.50" y="411.40" font-size="6.2" text-anchor="end">86</text>
<text x="137.50" y="411.40" font-size="6.2" text-anchor="end">66</text>
<text x="171.60" y="411.40" font-size="6.2" text-anchor="end">47</text>
<text x="202.70" y="411.40" font-size="6.2" text-anchor="end">1</text>
<text x="21.70" y="418.35" font-size="6.2">2</text>
<text x="39.80" y="418.35" font-size="6.2" text-anchor="end">126</text>
<text x="71.00" y="418.35" font-size="6.2" text-anchor="end">93</text>
<text x="105.50" y="418.35" font-size="6.2" text-anchor="end">77</text>
<text x="137.50" y="418.35" font-size="6.2" text-anchor="end">56</text>
<text x="171.60" y="418.35" font-size="6.2" text-anchor="end">40</text>
<text x="21.70" y="425.30" font-size="6.2">3</text>
<text x="39.80" y="425.30" font-size="6.2" text-anchor="end">52</text>
<text x="71.00" y="425.30" font-size="6.2" text-anchor="end">21</text>
<text x="105.50" y="425.30" font-size="6.2" text-anchor="end">17</text>
<text x="137.50" y="425.30" font-size="6.2" text-anchor="end">13</text>
<text x="171.60" y="425.30" font-size="6.2" text-anchor="end">7</text>
<text x="202.70" y="425.30" font-size="6.2" text-anchor="end">1</text>
<text x="21.70" y="432.25" font-size="6.2">4</text>
<text x="39.80" y="432.25" font-size="6.2" text-anchor="end">56</text>
<text x="71.00" y="432.25" font-size="6.2" text-anchor="end">21</text>
<text x="105.50" y="432.25" font-size="6.2" text-anchor="end">20</text>
<text x="137.50" y="432.25" font-size="6.2" text-anchor="end">15</text>
<text x="171.60" y="432.25" font-size="6.2" text-anchor="end">9</text>
<text x="202.70" y="432.25" font-size="6.2" text-anchor="end">3</text>
<text x="302.10" y="354.85" font-size="6.0" textLength="131.5" lengthAdjust="spacing">1 versus 2: HR, 1.111 (0.708 - 1.743); P = .647</text>
<text x="301.50" y="362.55" font-size="6.0" textLength="131.5" lengthAdjust="spacing">3 versus 4: HR, 1.129 (0.620 - 2.055); P = .691</text>
<text x="287.50" y="400.90" font-size="6.2" textLength="26.6" lengthAdjust="spacingAndGlyphs">No. at risk</text>
<text x="284.20" y="410.70" font-size="6.2">1</text>
<text x="302.40" y="410.70" font-size="6.2" text-anchor="end">97</text>
<text x="333.80" y="410.70" font-size="6.2" text-anchor="end">78</text>
<text x="368.00" y="410.70" font-size="6.2" text-anchor="end">66</text>
<text x="400.00" y="410.70" font-size="6.2" text-anchor="end">52</text>
<text x="432.70" y="410.70" font-size="6.2" text-anchor="end">38</text>
<text x="462.70" y="410.70" font-size="6.2" text-anchor="end">1</text>
<text x="284.20" y="417.65" font-size="6.2">2</text>
<text x="302.40" y="417.65" font-size="6.2" text-anchor="end">100</text>
<text x="333.80" y="417.65" font-size="6.2" text-anchor="end">74</text>
<text x="368.00" y="417.65" font-size="6.2" text-anchor="end">61</text>
<text x="400.00" y="417.65" font-size="6.2" text-anchor="end">47</text>
<text x="432.70" y="417.65" font-size="6.2" text-anchor="end">33</text>
<text x="284.20" y="424.60" font-size="6.2">3</text>
<text x="302.40" y="424.60" font-size="6.2" text-anchor="end">32</text>
<text x="333.80" y="424.60" font-size="6.2" text-anchor="end">14</text>
<text x="368.00" y="424.60" font-size="6.2" text-anchor="end">10</text>
<text x="400.00" y="424.60" font-size="6.2" text-anchor="end">8</text>
<text x="432.70" y="424.60" font-size="6.2" text-anchor="end">4</text>
<text x="462.70" y="424.60" font-size="6.2" text-anchor="end">1</text>
<text x="284.20" y="431.55" font-size="6.2">4</text>
<text x="302.40" y="431.55" font-size="6.2" text-anchor="end">31</text>
<text x="333.80" y="431.55" font-size="6.2" text-anchor="end">12</text>
<text x="368.00" y="431.55" font-size="6.2" text-anchor="end">12</text>
<text x="400.00" y="431.55" font-size="6.2" text-anchor="end">6</text>
<text x="432.70" y="431.55" font-size="6.2" text-anchor="end">4</text>
<text x="39.40" y="561.85" font-size="6.0" textLength="131.5" lengthAdjust="spacing">1 versus 2: HR, 0.960 (0.627 - 1.469); P = .850</text>
<text x="38.80" y="569.55" font-size="6.0" textLength="131.5" lengthAdjust="spacing">3 versus 4: HR, 1.114 (0.682 - 1.821); P = .666</text>
<text x="24.80" y="607.70" font-size="6.2" textLength="26.6" lengthAdjust="spacingAndGlyphs">No. at risk</text>
<text x="21.50" y="617.90" font-size="6.2">1</text>
<text x="39.80" y="617.90" font-size="6.2" text-anchor="end">129</text>
<text x="71.00" y="617.90" font-size="6.2" text-anchor="end">109</text>
<text x="105.50" y="617.90" font-size="6.2" text-anchor="end">91</text>
<text x="137.50" y="617.90" font-size="6.2" text-anchor="end">74</text>
<text x="171.60" y="617.90" font-size="6.2" text-anchor="end">53</text>
<text x="202.70" y="617.90" font-size="6.2" text-anchor="end">1</text>
<text x="21.50" y="624.85" font-size="6.2">2</text>
<text x="39.80" y="624.85" font-size="6.2" text-anchor="end">126</text>
<text x="71.00" y="624.85" font-size="6.2" text-anchor="end">105</text>
<text x="105.50" y="624.85" font-size="6.2" text-anchor="end">93</text>
<text x="137.50" y="624.85" font-size="6.2" text-anchor="end">69</text>
<text x="171.60" y="624.85" font-size="6.2" text-anchor="end">51</text>
<text x="21.50" y="631.80" font-size="6.2">3</text>
<text x="39.80" y="631.80" font-size="6.2" text-anchor="end">52</text>
<text x="71.00" y="631.80" font-size="6.2" text-anchor="end">29</text>
<text x="105.50" y="631.80" font-size="6.2" text-anchor="end">24</text>
<text x="137.50" y="631.80" font-size="6.2" text-anchor="end">18</text>
<text x="171.60" y="631.80" font-size="6.2" text-anchor="end">11</text>
<text x="202.70" y="631.80" font-size="6.2" text-anchor="end">4</text>
<text x="21.50" y="638.75" font-size="6.2">4</text>
<text x="39.80" y="638.75" font-size="6.2" text-anchor="end">56</text>
<text x="71.00" y="638.75" font-size="6.2" text-anchor="end">27</text>
<text x="105.50" y="638.75" font-size="6.2" text-anchor="end">23</text>
<text x="137.50" y="638.75" font-size="6.2" text-anchor="end">17</text>
<text x="171.60" y="638.75" font-size="6.2" text-anchor="end">13</text>
<text x="202.70" y="638.75" font-size="6.2" text-anchor="end">7</text>
<text x="234.80" y="638.75" font-size="6.2" text-anchor="end">1</text>
<text x="302.60" y="561.85" font-size="6.0" textLength="131.5" lengthAdjust="spacing">1 versus 2: HR, 1.021 (0.625 - 1.668); P = .933</text>
<text x="302.00" y="569.55" font-size="6.0" textLength="131.5" lengthAdjust="spacing">3 versus 4: HR, 1.334 (0.710 - 2.507); P = .369</text>
<text x="288.00" y="607.10" font-size="6.2" textLength="26.6" lengthAdjust="spacingAndGlyphs">No. at risk</text>
<text x="284.70" y="616.90" font-size="6.2">1</text>
<text x="302.40" y="616.90" font-size="6.2" text-anchor="end">97</text>
<text x="333.80" y="616.90" font-size="6.2" text-anchor="end">82</text>
<text x="368.00" y="616.90" font-size="6.2" text-anchor="end">69</text>
<text x="400.00" y="616.90" font-size="6.2" text-anchor="end">56</text>
<text x="432.70" y="616.90" font-size="6.2" text-anchor="end">41</text>
<text x="462.70" y="616.90" font-size="6.2" text-anchor="end">1</text>
<text x="284.70" y="623.85" font-size="6.2">2</text>
<text x="302.40" y="623.85" font-size="6.2" text-anchor="end">100</text>
<text x="333.80" y="623.85" font-size="6.2" text-anchor="end">81</text>
<text x="368.00" y="623.85" font-size="6.2" text-anchor="end">71</text>
<text x="400.00" y="623.85" font-size="6.2" text-anchor="end">54</text>
<text x="432.70" y="623.85" font-size="6.2" text-anchor="end">38</text>
<text x="284.70" y="630.80" font-size="6.2">3</text>
<text x="302.40" y="630.80" font-size="6.2" text-anchor="end">32</text>
<text x="333.80" y="630.80" font-size="6.2" text-anchor="end">18</text>
<text x="368.00" y="630.80" font-size="6.2" text-anchor="end">13</text>
<text x="400.00" y="630.80" font-size="6.2" text-anchor="end">9</text>
<text x="432.70" y="630.80" font-size="6.2" text-anchor="end">5</text>
<text x="462.70" y="630.80" font-size="6.2" text-anchor="end">1</text>
<text x="284.70" y="637.75" font-size="6.2">4</text>
<text x="302.40" y="637.75" font-size="6.2" text-anchor="end">31</text>
<text x="333.80" y="637.75" font-size="6.2" text-anchor="end">14</text>
<text x="368.00" y="637.75" font-size="6.2" text-anchor="end">12</text>
<text x="400.00" y="637.75" font-size="6.2" text-anchor="end">7</text>
<text x="432.70" y="637.75" font-size="6.2" text-anchor="end">5</text>
<text x="462.70" y="637.75" font-size="6.2" text-anchor="end">2</text>
<path d="M34.5,43.5 L34.8,49.0 L36.0,67.8 L38.2,85.0 L38.8,86.4 L39.7,92.7 L41.2,97.3 L42.4,97.3 L42.4,99.6 L43.5,99.6 L44.6,99.6 L44.6,101.2 L45.8,101.2 L47.4,103.5 L48.9,108.1 L50.5,112.7 L51.2,113.5 L56.6,113.5 L58.2,117.3 L59.7,118.1 L68.2,118.1 L69.7,121.2 L87.4,121.2 L88.9,123.5 L121.5,123.5 L123.0,126.4 L151.5,126.4 L151.9,131.2 L156.3,131.2 L156.5,134.4 L198.5,134.4 L198.5,148.0 L217.7,148.0" fill="none" stroke="#5cb048" stroke-width="1.0" stroke-linejoin="round"/>
<path d="M34.5,43.5 L35.6,67.8 L38.3,86.4 L39.7,100.4 L40.5,105.0 L42.0,111.2 L43.5,113.5 L45.1,117.3 L46.6,120.4 L47.8,120.4 L47.8,121.2 L48.9,121.2 L53.5,121.2 L55.1,124.2 L56.5,124.2 L56.5,124.8 L59.1,124.8 L59.1,125.3 L60.5,125.3 L62.8,128.1 L63.9,128.1 L63.9,129.6 L65.1,129.6 L66.6,131.5 L99.7,131.5 L102.0,134.4 L139.8,134.4 L140.6,137.1 L157.1,137.1 L157.7,139.6 L220.8,139.6" fill="none" stroke="#34548f" stroke-width="1.0" stroke-linejoin="round"/>
<path d="M34.5,43.5 L35.1,43.7 L37.0,47.4 L38.8,53.9 L40.2,57.6 L40.7,60.2 L42.1,62.3 L43.6,62.3 L43.6,63.8 L45.1,63.8 L46.2,63.8 L46.2,64.3 L47.4,64.3 L50.4,64.5 L51.2,64.9 L52.3,66.2 L54.1,66.2 L54.1,67.3 L56.0,67.3 L57.9,67.3 L57.9,68.2 L59.7,68.2 L61.2,68.2 L61.2,69.2 L62.8,69.2 L64.0,69.2 L64.0,69.8 L66.2,69.8 L66.2,70.5 L67.4,70.5 L68.6,70.5 L68.6,71.0 L70.8,71.0 L70.8,71.5 L72.0,71.5 L73.5,71.5 L73.5,72.3 L75.1,72.3 L76.7,72.3 L76.7,73.5 L78.2,73.5 L79.7,73.5 L79.7,74.6 L81.2,74.6 L82.3,74.6 L82.3,75.2 L84.7,75.2 L84.7,75.7 L85.8,75.7 L87.0,75.7 L87.0,76.3 L89.3,76.3 L89.3,76.9 L90.5,76.9 L91.7,76.9 L91.7,77.7 L93.9,77.7 L93.9,78.5 L95.1,78.5 L96.2,78.5 L96.2,79.2 L98.5,79.2 L98.5,80.0 L99.7,80.0 L100.8,80.0 L100.8,80.8 L103.2,80.8 L103.2,81.5 L104.3,81.5 L105.5,81.5 L105.5,82.5 L107.8,82.5 L107.8,83.4 L108.9,83.4 L110.0,84.4 L114.6,84.4 L114.6,85.0 L119.2,85.0 L120.8,85.0 L120.8,86.2 L122.3,86.2 L151.5,86.2 L153.1,86.2 L153.1,87.7 L154.6,87.7 L155.8,87.7 L155.8,88.2 L158.0,88.2 L158.0,88.8 L159.2,88.8 L161.9,88.8 L161.9,89.2 L164.6,89.2 L165.8,89.2 L165.8,91.5 L166.9,91.5 L168.4,91.5 L168.4,93.1 L170.0,93.1 L180.8,93.4 L182.3,96.9 L183.8,100.0 L185.4,101.7 L186.9,101.7 L186.9,102.9 L188.5,102.9 L202.3,102.9" fill="none" stroke="#44acd0" stroke-width="1.0" stroke-linejoin="round"/>
<path d="M34.5,43.5 L35.1,43.7 L37.0,47.4 L38.8,53.9 L40.2,57.6 L42.0,59.5 L43.9,62.5 L45.2,62.5 L45.2,65.4 L46.6,65.4 L47.6,67.3 L48.9,68.8 L50.5,71.5 L51.2,72.4 L55.1,72.4 L56.2,72.4 L56.2,73.0 L57.4,73.0 L58.5,73.0 L58.5,73.7 L59.7,73.7 L60.9,73.7 L60.9,74.2 L62.0,74.2 L64.3,74.2 L64.3,75.1 L66.6,75.1 L68.5,75.1 L68.5,76.2 L70.5,76.2 L72.0,76.2 L72.0,76.9 L73.5,76.9 L75.0,76.9 L75.0,78.5 L76.6,78.5 L78.2,78.5 L78.2,79.7 L79.7,79.7 L81.2,79.7 L81.2,81.2 L82.8,81.2 L84.3,81.2 L84.3,82.3 L85.8,82.3 L87.3,82.3 L87.3,83.4 L88.9,83.4 L90.1,83.4 L90.1,84.0 L92.3,84.0 L92.3,84.6 L93.5,84.6 L95.0,84.6 L95.0,86.2 L96.6,86.2 L97.8,86.2 L97.8,87.0 L100.0,87.0 L100.0,87.7 L101.2,87.7 L102.3,87.7 L102.3,88.3 L104.7,88.3 L104.7,88.9 L105.8,88.9 L107.9,88.9 L107.9,90.5 L110.0,90.5 L111.5,90.5 L111.5,91.5 L113.1,91.5 L116.2,91.5 L116.2,92.3 L119.2,92.3 L120.8,92.3 L120.8,92.8 L122.3,92.8 L123.8,92.8 L123.8,94.6 L125.4,94.6 L127.0,94.6 L127.0,95.8 L128.5,95.8 L132.7,95.8 L132.7,96.2 L136.9,96.2 L138.5,98.9 L140.6,98.9 L140.6,99.5 L144.8,99.5 L144.8,100.0 L146.9,100.0 L148.1,100.0 L148.1,101.5 L149.2,101.5 L151.1,101.5 L151.1,102.3 L153.1,102.3 L202.3,102.4" fill="none" stroke="#b01a3a" stroke-width="1.1" stroke-linejoin="round"/>
<line x1="155.0" y1="101.2" x2="155.0" y2="103.6" stroke="#b01a3a" stroke-width="0.7"/>
<line x1="158.0" y1="101.2" x2="158.0" y2="103.6" stroke="#b01a3a" stroke-width="0.7"/>
<line x1="161.0" y1="101.2" x2="161.0" y2="103.6" stroke="#b01a3a" stroke-width="0.7"/>
<line x1="164.0" y1="101.2" x2="164.0" y2="103.6" stroke="#b01a3a" stroke-width="0.7"/>
<line x1="167.0" y1="101.2" x2="167.0" y2="103.6" stroke="#b01a3a" stroke-width="0.7"/>
<line x1="170.0" y1="101.2" x2="170.0" y2="103.6" stroke="#b01a3a" stroke-width="0.7"/>
<line x1="173.0" y1="101.2" x2="173.0" y2="103.6" stroke="#b01a3a" stroke-width="0.7"/>
<line x1="176.0" y1="101.2" x2="176.0" y2="103.6" stroke="#b01a3a" stroke-width="0.7"/>
<line x1="179.0" y1="101.2" x2="179.0" y2="103.6" stroke="#b01a3a" stroke-width="0.7"/>
<line x1="182.0" y1="101.2" x2="182.0" y2="103.6" stroke="#b01a3a" stroke-width="0.7"/>
<line x1="185.0" y1="101.2" x2="185.0" y2="103.6" stroke="#b01a3a" stroke-width="0.7"/>
<line x1="188.0" y1="101.2" x2="188.0" y2="103.6" stroke="#b01a3a" stroke-width="0.7"/>
<line x1="191.0" y1="101.2" x2="191.0" y2="103.6" stroke="#b01a3a" stroke-width="0.7"/>
<line x1="194.0" y1="101.2" x2="194.0" y2="103.6" stroke="#b01a3a" stroke-width="0.7"/>
<line x1="197.0" y1="101.2" x2="197.0" y2="103.6" stroke="#b01a3a" stroke-width="0.7"/>
<line x1="200.0" y1="101.2" x2="200.0" y2="103.6" stroke="#b01a3a" stroke-width="0.7"/>
<line x1="189.0" y1="101.7" x2="189.0" y2="104.1" stroke="#44acd0" stroke-width="0.7"/>
<line x1="192.0" y1="101.7" x2="192.0" y2="104.1" stroke="#44acd0" stroke-width="0.7"/>
<line x1="195.0" y1="101.7" x2="195.0" y2="104.1" stroke="#44acd0" stroke-width="0.7"/>
<line x1="198.0" y1="101.7" x2="198.0" y2="104.1" stroke="#44acd0" stroke-width="0.7"/>
<line x1="201.0" y1="101.7" x2="201.0" y2="104.1" stroke="#44acd0" stroke-width="0.7"/>
<line x1="165.0" y1="138.4" x2="165.0" y2="140.8" stroke="#34548f" stroke-width="0.7"/>
<line x1="180.0" y1="138.4" x2="180.0" y2="140.8" stroke="#34548f" stroke-width="0.7"/>
<line x1="190.0" y1="138.4" x2="190.0" y2="140.8" stroke="#34548f" stroke-width="0.7"/>
<line x1="205.0" y1="138.4" x2="205.0" y2="140.8" stroke="#34548f" stroke-width="0.7"/>
<line x1="213.0" y1="138.4" x2="213.0" y2="140.8" stroke="#34548f" stroke-width="0.7"/>
<line x1="170.0" y1="133.2" x2="170.0" y2="135.6" stroke="#5cb048" stroke-width="0.7"/>
<line x1="185.0" y1="133.2" x2="185.0" y2="135.6" stroke="#5cb048" stroke-width="0.7"/>
<path d="M297.2,43.3 L297.8,51.5 L298.8,63.1 L299.9,72.3 L301.7,80.4 L303.4,85.0 L304.5,90.2 L305.6,90.2 L305.6,90.7 L306.8,90.7 L308.0,93.1 L309.2,97.5 L310.4,97.5 L310.4,98.8 L311.5,98.8 L312.2,102.7 L313.0,106.1 L321.5,106.1 L322.2,110.1 L330.7,110.1 L331.5,114.7 L350.7,114.7 L351.2,119.5 L414.3,119.5 L415.4,127.3 L416.8,127.3 L416.8,127.7 L418.2,127.7 L418.9,135.8 L459.3,135.8" fill="none" stroke="#5cb048" stroke-width="1.0" stroke-linejoin="round"/>
<path d="M297.2,43.3 L297.6,63.1 L297.8,78.1 L299.3,81.5 L299.9,85.0 L301.1,88.4 L302.0,93.1 L302.5,104.2 L303.0,113.5 L304.1,118.1 L305.3,122.7 L306.8,128.8 L308.4,130.7 L316.8,130.7 L317.6,134.5 L364.1,134.5 L364.5,138.9 L445.5,138.9" fill="none" stroke="#34548f" stroke-width="1.0" stroke-linejoin="round"/>
<path d="M297.2,43.3 L298.2,43.3 L298.2,45.2 L299.3,45.2 L301.1,48.7 L302.2,51.5 L302.8,55.0 L304.0,57.3 L305.7,58.5 L306.9,58.5 L306.9,59.0 L308.0,59.0 L312.6,59.4 L313.8,60.8 L314.9,63.1 L318.9,63.1 L318.9,63.6 L323.0,63.6 L324.7,63.6 L324.7,64.5 L326.4,64.5 L334.5,64.5 L335.6,64.5 L335.6,67.1 L336.8,67.1 L339.7,67.1 L339.7,67.7 L342.6,67.7 L343.8,67.7 L343.8,69.8 L344.9,69.8 L346.6,69.8 L346.6,70.6 L348.4,70.6 L350.0,71.2 L353.1,71.6 L354.6,71.6 L354.6,73.2 L356.2,73.2 L357.7,73.2 L357.7,74.2 L359.2,74.2 L361.5,74.2 L361.5,75.0 L363.8,75.0 L365.4,75.0 L365.4,76.5 L366.9,76.5 L368.4,76.5 L368.4,78.8 L370.0,78.8 L371.5,79.3 L413.1,79.3 L414.6,79.3 L414.6,80.8 L416.2,80.8 L418.1,80.8 L418.1,81.3 L420.0,81.3 L421.1,81.3 L421.1,82.5 L422.3,82.5 L428.1,82.7 L429.2,84.4 L430.4,84.4 L430.4,86.7 L431.5,86.7 L432.6,86.7 L432.6,88.5 L433.8,88.5 L443.1,88.5 L444.2,90.8 L445.4,93.1 L446.5,96.0 L447.6,96.0 L447.6,97.1 L448.8,97.1 L450.0,98.8 L450.6,100.9 L452.0,101.2" fill="none" stroke="#44acd0" stroke-width="1.0" stroke-linejoin="round"/>
<path d="M297.2,43.3 L299.9,46.9 L301.1,51.5 L301.7,56.1 L303.4,59.0 L306.8,63.1 L310.3,67.7 L313.2,72.9 L314.6,72.9 L314.6,73.4 L316.1,73.4 L320.7,73.4 L321.8,74.0 L327.0,74.0 L327.0,74.4 L332.2,74.4 L333.4,74.4 L333.4,76.7 L334.5,76.7 L335.6,76.7 L335.6,78.3 L336.8,78.3 L342.6,78.6 L343.8,78.6 L343.8,81.3 L344.9,81.3 L346.6,81.3 L346.6,82.4 L348.4,82.4 L350.0,82.6 L353.1,82.6 L353.1,83.5 L356.2,83.5 L357.4,83.5 L357.4,85.8 L358.5,85.8 L360.4,85.8 L360.4,87.3 L362.3,87.3 L363.9,87.3 L363.9,88.8 L365.4,88.8 L370.0,88.8 L370.0,89.6 L374.6,89.6 L376.2,90.7 L381.5,90.7 L381.5,91.2 L386.9,91.2 L388.4,91.2 L388.4,92.7 L390.0,92.7 L394.6,92.7 L394.6,93.5 L399.2,93.5 L400.8,96.2 L404.6,96.2 L404.6,96.8 L408.5,96.8 L409.6,96.8 L409.6,98.8 L410.8,98.8 L412.7,98.8 L412.7,99.9 L414.6,99.9 L416.2,100.8 L462.7,100.8" fill="none" stroke="#b01a3a" stroke-width="1.1" stroke-linejoin="round"/>
<line x1="418.0" y1="99.6" x2="418.0" y2="102.0" stroke="#b01a3a" stroke-width="0.7"/>
<line x1="421.0" y1="99.6" x2="421.0" y2="102.0" stroke="#b01a3a" stroke-width="0.7"/>
<line x1="424.0" y1="99.6" x2="424.0" y2="102.0" stroke="#b01a3a" stroke-width="0.7"/>
<line x1="427.0" y1="99.6" x2="427.0" y2="102.0" stroke="#b01a3a" stroke-width="0.7"/>
<line x1="430.0" y1="99.6" x2="430.0" y2="102.0" stroke="#b01a3a" stroke-width="0.7"/>
<line x1="433.0" y1="99.6" x2="433.0" y2="102.0" stroke="#b01a3a" stroke-width="0.7"/>
<line x1="436.0" y1="99.6" x2="436.0" y2="102.0" stroke="#b01a3a" stroke-width="0.7"/>
<line x1="439.0" y1="99.6" x2="439.0" y2="102.0" stroke="#b01a3a" stroke-width="0.7"/>
<line x1="442.0" y1="99.6" x2="442.0" y2="102.0" stroke="#b01a3a" stroke-width="0.7"/>
<line x1="445.0" y1="99.6" x2="445.0" y2="102.0" stroke="#b01a3a" stroke-width="0.7"/>
<line x1="448.0" y1="99.6" x2="448.0" y2="102.0" stroke="#b01a3a" stroke-width="0.7"/>
<line x1="451.0" y1="99.6" x2="451.0" y2="102.0" stroke="#b01a3a" stroke-width="0.7"/>
<line x1="454.0" y1="99.6" x2="454.0" y2="102.0" stroke="#b01a3a" stroke-width="0.7"/>
<line x1="457.0" y1="99.6" x2="457.0" y2="102.0" stroke="#b01a3a" stroke-width="0.7"/>
<line x1="460.0" y1="99.6" x2="460.0" y2="102.0" stroke="#b01a3a" stroke-width="0.7"/>
<line x1="380.0" y1="78.1" x2="380.0" y2="80.5" stroke="#44acd0" stroke-width="0.7"/>
<line x1="395.0" y1="78.1" x2="395.0" y2="80.5" stroke="#44acd0" stroke-width="0.7"/>
<line x1="405.0" y1="78.1" x2="405.0" y2="80.5" stroke="#44acd0" stroke-width="0.7"/>
<line x1="437.0" y1="87.3" x2="437.0" y2="89.7" stroke="#44acd0" stroke-width="0.7"/>
<line x1="441.0" y1="87.3" x2="441.0" y2="89.7" stroke="#44acd0" stroke-width="0.7"/>
<line x1="360.0" y1="118.3" x2="360.0" y2="120.7" stroke="#5cb048" stroke-width="0.7"/>
<line x1="370.0" y1="118.3" x2="370.0" y2="120.7" stroke="#5cb048" stroke-width="0.7"/>
<line x1="390.0" y1="118.3" x2="390.0" y2="120.7" stroke="#5cb048" stroke-width="0.7"/>
<line x1="400.0" y1="118.3" x2="400.0" y2="120.7" stroke="#5cb048" stroke-width="0.7"/>
<line x1="408.0" y1="118.3" x2="408.0" y2="120.7" stroke="#5cb048" stroke-width="0.7"/>
<line x1="380.0" y1="137.7" x2="380.0" y2="140.1" stroke="#34548f" stroke-width="0.7"/>
<line x1="395.0" y1="137.7" x2="395.0" y2="140.1" stroke="#34548f" stroke-width="0.7"/>
<line x1="410.0" y1="137.7" x2="410.0" y2="140.1" stroke="#34548f" stroke-width="0.7"/>
<line x1="420.0" y1="137.7" x2="420.0" y2="140.1" stroke="#34548f" stroke-width="0.7"/>
<line x1="440.0" y1="137.7" x2="440.0" y2="140.1" stroke="#34548f" stroke-width="0.7"/>
<path d="M34.4,251.2 L35.2,257.2 L36.3,260.7 L37.5,261.8 L38.1,267.6 L39.2,278.0 L40.1,286.1 L41.0,290.7 L42.3,295.0 L43.8,297.3 L45.4,298.1 L46.6,301.2 L47.7,303.5 L49.2,305.0 L50.4,305.0 L50.4,305.8 L51.5,305.8 L53.1,307.3 L54.6,308.8 L55.8,308.8 L55.8,310.4 L56.9,310.4 L59.2,313.2 L60.8,314.2 L67.7,314.2 L68.5,318.8 L73.5,318.8 L73.5,319.3 L78.5,319.3 L79.2,321.5 L88.5,321.9 L88.9,323.9 L100.0,324.1 L114.1,324.1 L114.8,326.3 L122.9,326.3 L123.6,327.2 L151.1,327.2 L151.8,330.8 L156.5,330.8 L157.2,334.4 L195.7,334.4 L197.0,342.0 L198.4,350.0 L217.2,350.0" fill="none" stroke="#5cb048" stroke-width="1.0" stroke-linejoin="round"/>
<path d="M34.4,251.2 L34.8,254.9 L35.8,260.1 L36.9,261.3 L37.5,267.6 L38.7,276.8 L39.8,286.1 L41.0,293.0 L42.3,295.5 L43.1,298.1 L45.4,301.2 L46.9,304.2 L48.0,304.2 L48.0,305.0 L49.2,305.0 L50.4,305.0 L50.4,306.5 L51.5,306.5 L53.1,308.1 L54.6,309.6 L55.8,309.6 L55.8,311.9 L56.9,311.9 L58.0,311.9 L58.0,314.2 L59.2,314.2 L60.8,314.2 L60.8,315.0 L62.3,315.0 L63.4,315.0 L63.4,317.3 L64.6,317.3 L65.4,320.4 L66.2,322.4 L73.1,322.4 L73.8,324.2 L100.8,324.5 L101.5,326.3 L122.9,326.3 L123.6,329.4 L140.4,329.4 L141.0,331.5 L151.8,331.5 L153.2,331.5 L153.2,332.9 L155.8,332.9 L155.8,334.4 L157.2,334.4 L195.7,334.4 L196.5,342.0 L220.8,342.0" fill="none" stroke="#34548f" stroke-width="1.0" stroke-linejoin="round"/>
<path d="M34.4,251.2 L35.6,251.2 L35.6,252.0 L36.9,252.0 L38.7,254.9 L39.8,258.4 L41.5,261.5 L42.6,261.5 L42.6,264.1 L43.8,264.1 L45.0,264.1 L45.0,265.3 L46.1,265.3 L50.8,265.3 L52.0,265.3 L52.0,267.6 L53.1,267.6 L54.2,267.6 L54.2,268.8 L55.4,268.8 L57.7,268.8 L57.7,269.3 L60.0,269.3 L61.7,269.3 L61.7,271.1 L63.4,271.1 L65.2,271.1 L65.2,272.8 L66.9,272.8 L72.7,272.8 L73.8,272.8 L73.8,275.1 L75.0,275.1 L76.2,275.1 L76.2,275.7 L78.4,275.7 L78.4,276.3 L79.6,276.3 L81.3,276.3 L81.3,278.2 L83.1,278.2 L84.8,278.2 L84.8,279.1 L86.5,279.1 L88.0,279.6 L90.3,279.6 L90.3,280.4 L92.6,280.4 L93.8,280.4 L93.8,281.1 L96.0,281.1 L96.0,281.9 L97.2,281.9 L98.3,281.9 L98.3,282.7 L100.7,282.7 L100.7,283.5 L101.8,283.5 L103.0,283.5 L103.0,284.2 L105.3,284.2 L105.3,285.0 L106.5,285.0 L107.7,285.0 L107.7,285.8 L109.9,285.8 L109.9,286.5 L111.1,286.5 L112.2,286.5 L112.2,287.1 L114.5,287.1 L114.5,287.8 L115.7,287.8 L117.2,287.8 L117.2,288.3 L120.3,288.3 L120.3,288.8 L121.8,288.8 L123.3,288.8 L123.3,289.4 L126.5,289.4 L126.5,289.9 L128.0,289.9 L129.2,289.9 L129.2,290.5 L131.4,290.5 L131.4,291.2 L132.6,291.2 L135.7,291.2 L135.7,291.9 L138.8,291.9 L144.2,291.9 L144.2,292.4 L149.5,292.4 L154.2,292.7 L155.3,292.7 L155.3,293.4 L157.7,293.4 L157.7,294.2 L158.8,294.2 L165.4,294.4 L166.9,296.5 L168.9,296.5 L168.9,297.8 L170.8,297.8 L172.7,297.8 L172.7,298.8 L174.6,298.8 L180.8,298.8 L181.5,301.2 L183.1,304.2 L184.6,306.5 L185.8,306.5 L185.8,307.3 L186.9,307.3 L187.7,308.5 L203.1,308.5" fill="none" stroke="#44acd0" stroke-width="1.0" stroke-linejoin="round"/>
<path d="M34.4,251.2 L35.6,251.2 L35.6,252.0 L36.9,252.0 L38.7,254.9 L39.8,258.4 L41.5,261.3 L43.8,264.1 L46.1,267.0 L48.5,270.5 L50.8,273.6 L53.1,274.0 L56.5,274.0 L58.3,275.1 L60.3,275.1 L60.3,275.7 L62.3,275.7 L63.4,275.7 L63.4,276.3 L64.6,276.3 L66.3,276.3 L66.3,276.8 L68.1,276.8 L69.2,276.8 L69.2,278.2 L70.4,278.2 L72.1,278.2 L72.1,280.3 L73.8,280.3 L76.1,280.3 L76.1,280.9 L78.4,280.9 L79.6,280.9 L79.6,281.4 L80.7,281.4 L83.1,284.7 L88.0,285.0 L91.1,285.0 L91.1,285.8 L94.2,285.8 L95.7,288.1 L96.8,288.1 L96.8,288.9 L99.2,288.9 L99.2,289.6 L100.3,289.6 L101.5,289.6 L101.5,290.4 L103.8,290.4 L103.8,291.2 L104.9,291.2 L106.1,291.2 L106.1,291.9 L108.3,291.9 L108.3,292.7 L109.5,292.7 L111.0,292.7 L111.0,293.3 L114.2,293.3 L114.2,293.9 L115.7,293.9 L121.8,294.2 L123.3,294.2 L123.3,295.8 L124.9,295.8 L126.5,295.8 L126.5,297.3 L128.0,297.3 L135.7,297.3 L138.0,300.4 L139.9,300.4 L139.9,301.2 L141.8,301.2 L144.9,301.2 L144.9,301.6 L148.0,301.6 L149.5,302.7 L151.1,302.7 L151.1,303.5 L152.6,303.5 L202.3,303.5" fill="none" stroke="#b01a3a" stroke-width="1.1" stroke-linejoin="round"/>
<line x1="156.0" y1="302.3" x2="156.0" y2="304.7" stroke="#b01a3a" stroke-width="0.7"/>
<line x1="159.0" y1="302.3" x2="159.0" y2="304.7" stroke="#b01a3a" stroke-width="0.7"/>
<line x1="162.0" y1="302.3" x2="162.0" y2="304.7" stroke="#b01a3a" stroke-width="0.7"/>
<line x1="165.0" y1="302.3" x2="165.0" y2="304.7" stroke="#b01a3a" stroke-width="0.7"/>
<line x1="168.0" y1="302.3" x2="168.0" y2="304.7" stroke="#b01a3a" stroke-width="0.7"/>
<line x1="171.0" y1="302.3" x2="171.0" y2="304.7" stroke="#b01a3a" stroke-width="0.7"/>
<line x1="174.0" y1="302.3" x2="174.0" y2="304.7" stroke="#b01a3a" stroke-width="0.7"/>
<line x1="177.0" y1="302.3" x2="177.0" y2="304.7" stroke="#b01a3a" stroke-width="0.7"/>
<line x1="180.0" y1="302.3" x2="180.0" y2="304.7" stroke="#b01a3a" stroke-width="0.7"/>
<line x1="183.0" y1="302.3" x2="183.0" y2="304.7" stroke="#b01a3a" stroke-width="0.7"/>
<line x1="186.0" y1="302.3" x2="186.0" y2="304.7" stroke="#b01a3a" stroke-width="0.7"/>
<line x1="189.0" y1="302.3" x2="189.0" y2="304.7" stroke="#b01a3a" stroke-width="0.7"/>
<line x1="192.0" y1="302.3" x2="192.0" y2="304.7" stroke="#b01a3a" stroke-width="0.7"/>
<line x1="195.0" y1="302.3" x2="195.0" y2="304.7" stroke="#b01a3a" stroke-width="0.7"/>
<line x1="198.0" y1="302.3" x2="198.0" y2="304.7" stroke="#b01a3a" stroke-width="0.7"/>
<line x1="201.0" y1="302.3" x2="201.0" y2="304.7" stroke="#b01a3a" stroke-width="0.7"/>
<line x1="190.0" y1="307.3" x2="190.0" y2="309.7" stroke="#44acd0" stroke-width="0.7"/>
<line x1="194.0" y1="307.3" x2="194.0" y2="309.7" stroke="#44acd0" stroke-width="0.7"/>
<line x1="198.0" y1="307.3" x2="198.0" y2="309.7" stroke="#44acd0" stroke-width="0.7"/>
<line x1="202.0" y1="307.3" x2="202.0" y2="309.7" stroke="#44acd0" stroke-width="0.7"/>
<line x1="165.0" y1="333.2" x2="165.0" y2="335.6" stroke="#34548f" stroke-width="0.7"/>
<line x1="175.0" y1="333.2" x2="175.0" y2="335.6" stroke="#34548f" stroke-width="0.7"/>
<line x1="180.0" y1="333.2" x2="180.0" y2="335.6" stroke="#34548f" stroke-width="0.7"/>
<line x1="185.0" y1="333.2" x2="185.0" y2="335.6" stroke="#34548f" stroke-width="0.7"/>
<line x1="200.0" y1="340.8" x2="200.0" y2="343.2" stroke="#34548f" stroke-width="0.7"/>
<line x1="205.0" y1="340.8" x2="205.0" y2="343.2" stroke="#34548f" stroke-width="0.7"/>
<line x1="210.0" y1="340.8" x2="210.0" y2="343.2" stroke="#34548f" stroke-width="0.7"/>
<line x1="215.0" y1="340.8" x2="215.0" y2="343.2" stroke="#34548f" stroke-width="0.7"/>
<path d="M296.9,251.1 L297.6,257.2 L298.8,261.8 L299.9,267.6 L301.1,274.5 L302.2,279.1 L303.4,283.8 L304.0,286.1 L305.4,286.1 L305.4,286.6 L306.8,286.6 L307.4,290.1 L309.1,290.9 L310.3,294.7 L311.5,295.3 L312.2,298.1 L313.0,301.9 L320.7,301.9 L321.5,305.8 L330.7,306.1 L331.5,314.2 L340.7,314.2 L341.5,318.8 L346.1,318.8 L346.1,319.3 L350.7,319.3 L351.5,323.0 L413.9,323.0 L415.0,326.6 L418.2,330.9 L419.2,337.4 L459.0,337.4" fill="none" stroke="#5cb048" stroke-width="1.0" stroke-linejoin="round"/>
<path d="M296.9,251.1 L297.6,257.2 L299.3,261.8 L300.5,271.1 L301.7,280.3 L302.2,289.5 L302.8,294.1 L303.5,296.5 L305.3,299.6 L306.8,301.9 L308.4,304.2 L309.2,307.0 L313.8,307.3 L314.5,310.4 L316.1,311.9 L317.6,314.2 L319.2,318.1 L319.9,318.8 L334.5,318.8 L336.1,323.0 L363.8,323.3 L364.5,326.6 L385.4,326.6 L386.4,332.5 L459.0,332.5 L459.5,349.0 L470.8,349.0" fill="none" stroke="#34548f" stroke-width="1.0" stroke-linejoin="round"/>
<path d="M296.9,251.1 L298.1,251.1 L298.1,251.5 L299.3,251.5 L300.5,253.8 L301.1,256.7 L302.2,259.5 L304.0,262.4 L304.5,263.6 L305.6,263.6 L305.6,264.7 L306.8,264.7 L308.0,264.7 L308.0,265.3 L309.1,265.3 L313.8,265.3 L314.9,268.2 L316.1,268.8 L323.0,269.0 L324.7,269.0 L324.7,269.9 L326.4,269.9 L334.5,270.1 L336.3,272.2 L341.4,272.5 L342.5,272.5 L342.5,273.6 L343.7,273.6 L345.4,273.6 L345.4,275.1 L347.2,275.1 L348.6,275.1 L348.6,276.2 L350.0,276.2 L352.3,276.2 L352.3,276.6 L354.6,276.6 L356.2,278.5 L357.7,278.5 L357.7,279.7 L359.2,279.7 L361.5,279.7 L361.5,280.3 L363.8,280.3 L365.4,280.3 L365.4,282.3 L366.9,282.3 L368.0,282.3 L368.0,283.3 L370.4,283.3 L370.4,284.3 L371.5,284.3 L393.1,284.3 L394.6,284.3 L394.6,285.8 L396.2,285.8 L402.3,286.2 L410.0,286.2 L411.6,286.2 L411.6,286.9 L413.1,286.9 L415.4,286.9 L415.4,287.4 L417.7,287.4 L418.9,287.4 L418.9,288.1 L420.0,288.1 L421.6,288.1 L421.6,288.8 L423.1,288.8 L429.2,289.2 L430.8,291.9 L432.3,291.9 L432.3,294.2 L433.8,294.2 L435.4,294.2 L435.4,295.0 L436.9,295.0 L443.8,295.0 L444.6,298.1 L446.2,300.4 L447.4,300.4 L447.4,302.4 L448.5,302.4 L450.0,305.0 L450.8,306.1 L466.2,306.1" fill="none" stroke="#44acd0" stroke-width="1.0" stroke-linejoin="round"/>
<path d="M296.9,251.1 L298.1,251.1 L298.1,251.5 L299.3,251.5 L300.5,253.8 L301.1,256.7 L302.2,259.5 L304.0,260.7 L305.7,263.0 L306.9,263.0 L306.9,265.3 L308.0,265.3 L310.3,268.2 L312.6,272.2 L313.8,274.0 L320.7,274.3 L321.9,274.3 L321.9,275.1 L323.0,275.1 L332.2,275.5 L333.4,275.5 L333.4,277.8 L334.5,277.8 L335.6,277.8 L335.6,278.9 L336.8,278.9 L339.7,278.9 L339.7,279.4 L342.6,279.4 L343.8,279.4 L343.8,281.4 L344.9,281.4 L346.0,281.4 L346.0,282.4 L347.2,282.4 L348.9,282.4 L348.9,283.2 L350.7,283.2 L352.6,283.2 L352.6,283.8 L354.6,283.8 L356.6,283.8 L356.6,286.2 L358.5,286.2 L360.4,286.2 L360.4,287.7 L362.3,287.7 L363.9,287.7 L363.9,289.2 L365.4,289.2 L370.0,289.2 L370.0,290.0 L374.6,290.0 L375.8,290.0 L375.8,290.8 L376.9,290.8 L386.9,290.8 L388.4,290.8 L388.4,292.3 L390.0,292.3 L394.6,292.3 L394.6,293.1 L399.2,293.1 L400.8,296.2 L404.6,296.2 L404.6,296.6 L408.5,296.6 L410.0,296.6 L410.0,298.2 L411.5,298.2 L412.7,298.2 L412.7,298.9 L415.0,298.9 L415.0,299.6 L416.2,299.6 L463.1,299.6" fill="none" stroke="#b01a3a" stroke-width="1.1" stroke-linejoin="round"/>
<line x1="420.0" y1="298.4" x2="420.0" y2="300.8" stroke="#b01a3a" stroke-width="0.7"/>
<line x1="423.0" y1="298.4" x2="423.0" y2="300.8" stroke="#b01a3a" stroke-width="0.7"/>
<line x1="426.0" y1="298.4" x2="426.0" y2="300.8" stroke="#b01a3a" stroke-width="0.7"/>
<line x1="429.0" y1="298.4" x2="429.0" y2="300.8" stroke="#b01a3a" stroke-width="0.7"/>
<line x1="432.0" y1="298.4" x2="432.0" y2="300.8" stroke="#b01a3a" stroke-width="0.7"/>
<line x1="435.0" y1="298.4" x2="435.0" y2="300.8" stroke="#b01a3a" stroke-width="0.7"/>
<line x1="438.0" y1="298.4" x2="438.0" y2="300.8" stroke="#b01a3a" stroke-width="0.7"/>
<line x1="441.0" y1="298.4" x2="441.0" y2="300.8" stroke="#b01a3a" stroke-width="0.7"/>
<line x1="444.0" y1="298.4" x2="444.0" y2="300.8" stroke="#b01a3a" stroke-width="0.7"/>
<line x1="447.0" y1="298.4" x2="447.0" y2="300.8" stroke="#b01a3a" stroke-width="0.7"/>
<line x1="450.0" y1="298.4" x2="450.0" y2="300.8" stroke="#b01a3a" stroke-width="0.7"/>
<line x1="453.0" y1="298.4" x2="453.0" y2="300.8" stroke="#b01a3a" stroke-width="0.7"/>
<line x1="456.0" y1="298.4" x2="456.0" y2="300.8" stroke="#b01a3a" stroke-width="0.7"/>
<line x1="459.0" y1="298.4" x2="459.0" y2="300.8" stroke="#b01a3a" stroke-width="0.7"/>
<line x1="462.0" y1="298.4" x2="462.0" y2="300.8" stroke="#b01a3a" stroke-width="0.7"/>
<line x1="453.0" y1="304.9" x2="453.0" y2="307.3" stroke="#44acd0" stroke-width="0.7"/>
<line x1="457.0" y1="304.9" x2="457.0" y2="307.3" stroke="#44acd0" stroke-width="0.7"/>
<line x1="461.0" y1="304.9" x2="461.0" y2="307.3" stroke="#44acd0" stroke-width="0.7"/>
<line x1="465.0" y1="304.9" x2="465.0" y2="307.3" stroke="#44acd0" stroke-width="0.7"/>
<line x1="400.0" y1="331.3" x2="400.0" y2="333.7" stroke="#34548f" stroke-width="0.7"/>
<line x1="410.0" y1="331.3" x2="410.0" y2="333.7" stroke="#34548f" stroke-width="0.7"/>
<line x1="425.0" y1="331.3" x2="425.0" y2="333.7" stroke="#34548f" stroke-width="0.7"/>
<line x1="440.0" y1="331.3" x2="440.0" y2="333.7" stroke="#34548f" stroke-width="0.7"/>
<line x1="450.0" y1="331.3" x2="450.0" y2="333.7" stroke="#34548f" stroke-width="0.7"/>
<path d="M34.2,457.4 L35.8,462.1 L38.1,466.7 L40.4,471.3 L42.7,475.9 L44.4,478.8 L45.8,478.8 L45.8,479.4 L47.3,479.4 L48.5,482.8 L49.6,486.3 L50.8,490.9 L51.3,493.2 L53.3,493.2 L53.3,493.8 L55.4,493.8 L57.1,495.5 L58.2,495.5 L58.2,497.8 L59.4,497.8 L60.6,500.7 L61.1,502.4 L65.5,502.4 L65.5,502.8 L70.0,502.8 L71.5,504.6 L74.6,504.6 L74.6,505.4 L77.7,505.4 L78.9,507.4 L87.7,507.7 L89.2,510.8 L90.8,512.5 L113.8,512.5 L114.5,515.0 L119.1,515.0 L119.1,515.5 L123.8,515.5 L124.5,518.0 L150.0,518.0 L151.2,521.0 L153.1,521.0 L153.1,521.8 L155.0,521.8 L156.2,525.5 L171.2,525.5 L172.5,530.0 L234.0,530.0 L234.5,573.4" fill="none" stroke="#5cb048" stroke-width="1.0" stroke-linejoin="round"/>
<path d="M34.2,457.4 L35.8,462.1 L38.1,467.8 L40.4,472.5 L42.7,477.1 L44.4,481.7 L45.6,487.4 L46.7,490.9 L47.9,494.4 L49.6,496.7 L51.3,499.0 L53.0,499.0 L53.0,499.6 L54.8,499.6 L56.0,501.5 L56.2,503.1 L57.7,506.9 L59.2,508.5 L60.8,509.5 L62.7,509.5 L62.7,510.0 L64.6,510.0 L65.4,513.1 L66.9,515.1 L70.8,515.4 L72.3,518.2 L83.1,518.5 L84.6,520.3 L90.0,520.3 L90.0,520.8 L95.4,520.8 L96.9,522.6 L121.2,522.6 L122.5,525.5 L195.0,525.5 L195.8,530.8 L217.5,530.8 L218.0,541.3 L237.5,541.3" fill="none" stroke="#34548f" stroke-width="1.0" stroke-linejoin="round"/>
<path d="M34.2,457.4 L35.5,457.4 L35.5,458.0 L36.9,458.0 L38.0,458.0 L38.0,459.2 L39.2,459.2 L40.4,459.2 L40.4,460.3 L41.5,460.3 L42.6,460.3 L42.6,461.5 L43.8,461.5 L45.0,461.5 L45.0,462.7 L46.1,462.7 L47.3,462.7 L47.3,464.4 L48.5,464.4 L49.6,464.4 L49.6,466.1 L50.8,466.1 L53.1,469.0 L54.8,471.3 L56.5,471.9 L66.9,471.9 L69.8,472.2 L71.5,473.0 L72.7,473.0 L72.7,474.5 L73.8,474.5 L75.5,474.5 L75.5,475.3 L77.3,475.3 L79.0,475.3 L79.0,476.5 L80.7,476.5 L82.5,476.5 L82.5,477.6 L84.2,477.6 L86.0,477.6 L86.0,478.5 L87.7,478.5 L89.7,478.5 L89.7,479.1 L93.7,479.1 L93.7,479.6 L95.7,479.6 L97.2,481.9 L98.3,481.9 L98.3,483.8 L99.5,483.8 L103.4,484.2 L105.7,484.2 L105.7,484.7 L108.0,484.7 L110.3,484.7 L110.3,485.3 L112.6,485.3 L114.2,485.3 L114.2,486.2 L115.7,486.2 L118.8,486.2 L118.8,486.8 L121.8,486.8 L124.2,486.8 L124.2,487.3 L126.5,487.3 L128.0,487.3 L128.0,488.1 L129.5,488.1 L131.1,488.1 L131.1,488.8 L132.6,488.8 L135.7,488.8 L135.7,489.3 L138.8,489.3 L151.1,489.6 L152.6,491.5 L154.1,491.5 L154.1,492.2 L155.7,492.2 L164.6,492.3 L165.8,493.5 L166.9,493.5 L166.9,495.2 L168.1,495.2 L169.8,495.2 L169.8,496.0 L171.5,496.0 L179.5,496.2 L180.4,500.4 L181.7,500.4 L181.7,503.0 L183.0,503.0 L184.7,503.0 L184.7,503.8 L186.4,503.8 L187.3,506.0 L202.9,506.0" fill="none" stroke="#44acd0" stroke-width="1.0" stroke-linejoin="round"/>
<path d="M34.2,457.4 L35.5,457.4 L35.5,458.0 L36.9,458.0 L38.0,458.0 L38.0,459.2 L39.2,459.2 L40.4,459.2 L40.4,460.3 L41.5,460.3 L42.6,460.3 L42.6,461.5 L43.8,461.5 L45.0,461.5 L45.0,462.7 L46.1,462.7 L47.3,462.7 L47.3,464.4 L48.5,464.4 L49.6,464.4 L49.6,466.1 L50.8,466.1 L53.1,469.0 L54.8,471.3 L56.5,471.9 L66.9,471.9 L69.8,472.2 L71.5,473.0 L72.7,473.0 L72.7,474.5 L73.8,474.5 L75.5,474.5 L75.5,475.3 L77.3,475.3 L79.0,475.3 L79.0,476.5 L80.7,476.5 L82.5,476.5 L82.5,477.6 L84.2,477.6 L86.0,477.6 L86.0,478.5 L87.7,478.5 L88.9,478.5 L88.9,479.1 L91.4,479.1 L91.4,479.6 L92.6,479.6 L94.9,479.6 L94.9,480.1 L97.2,480.1 L98.8,480.1 L98.8,481.2 L100.3,481.2 L101.8,481.2 L101.8,483.2 L103.4,483.2 L104.6,483.2 L104.6,483.7 L106.8,483.7 L106.8,484.2 L108.0,484.2 L111.8,484.2 L111.8,484.7 L115.7,484.7 L124.9,485.0 L126.5,485.0 L126.5,486.5 L128.0,486.5 L129.6,486.5 L129.6,488.1 L131.1,488.1 L132.6,488.1 L132.6,489.6 L134.2,489.6 L135.7,489.6 L135.7,491.5 L137.2,491.5 L138.8,492.7 L146.5,493.0 L148.0,493.0 L148.0,494.5 L149.5,494.5 L151.1,494.5 L151.1,495.8 L152.6,495.8 L154.2,497.0 L168.1,497.0 L169.2,498.2 L194.2,498.2 L194.4,505.6 L202.4,505.6" fill="none" stroke="#b01a3a" stroke-width="1.1" stroke-linejoin="round"/>
<line x1="172.0" y1="497.0" x2="172.0" y2="499.4" stroke="#b01a3a" stroke-width="0.7"/>
<line x1="175.0" y1="497.0" x2="175.0" y2="499.4" stroke="#b01a3a" stroke-width="0.7"/>
<line x1="178.0" y1="497.0" x2="178.0" y2="499.4" stroke="#b01a3a" stroke-width="0.7"/>
<line x1="181.0" y1="497.0" x2="181.0" y2="499.4" stroke="#b01a3a" stroke-width="0.7"/>
<line x1="184.0" y1="497.0" x2="184.0" y2="499.4" stroke="#b01a3a" stroke-width="0.7"/>
<line x1="187.0" y1="497.0" x2="187.0" y2="499.4" stroke="#b01a3a" stroke-width="0.7"/>
<line x1="190.0" y1="497.0" x2="190.0" y2="499.4" stroke="#b01a3a" stroke-width="0.7"/>
<line x1="193.0" y1="497.0" x2="193.0" y2="499.4" stroke="#b01a3a" stroke-width="0.7"/>
<line x1="196.0" y1="504.4" x2="196.0" y2="506.8" stroke="#b01a3a" stroke-width="0.7"/>
<line x1="199.0" y1="504.4" x2="199.0" y2="506.8" stroke="#b01a3a" stroke-width="0.7"/>
<line x1="202.0" y1="504.4" x2="202.0" y2="506.8" stroke="#b01a3a" stroke-width="0.7"/>
<line x1="135.0" y1="524.3" x2="135.0" y2="526.7" stroke="#34548f" stroke-width="0.7"/>
<line x1="160.0" y1="524.3" x2="160.0" y2="526.7" stroke="#34548f" stroke-width="0.7"/>
<line x1="180.0" y1="524.3" x2="180.0" y2="526.7" stroke="#34548f" stroke-width="0.7"/>
<line x1="190.0" y1="524.3" x2="190.0" y2="526.7" stroke="#34548f" stroke-width="0.7"/>
<line x1="200.0" y1="529.6" x2="200.0" y2="532.0" stroke="#34548f" stroke-width="0.7"/>
<line x1="205.0" y1="529.6" x2="205.0" y2="532.0" stroke="#34548f" stroke-width="0.7"/>
<line x1="225.0" y1="540.1" x2="225.0" y2="542.5" stroke="#34548f" stroke-width="0.7"/>
<line x1="230.0" y1="540.1" x2="230.0" y2="542.5" stroke="#34548f" stroke-width="0.7"/>
<line x1="235.0" y1="540.1" x2="235.0" y2="542.5" stroke="#34548f" stroke-width="0.7"/>
<path d="M297.4,456.7 L298.8,458.8 L299.9,462.2 L300.5,466.8 L302.2,467.4 L304.0,469.1 L305.7,472.6 L307.4,474.3 L308.5,474.3 L308.5,474.9 L309.7,474.9 L310.9,479.5 L312.0,484.1 L313.2,488.8 L313.8,489.9 L319.5,490.1 L321.3,494.0 L321.8,496.8 L327.3,496.8 L327.3,497.4 L332.8,497.4 L334.0,500.9 L337.1,500.9 L337.1,501.4 L340.3,501.4 L341.4,505.5 L346.0,505.5 L346.0,506.1 L350.7,506.1 L351.8,509.5 L353.1,511.1 L353.8,514.6 L387.3,514.6 L388.3,519.4 L414.2,519.4 L415.2,527.1 L417.1,527.1 L417.1,527.7 L419.0,527.7 L420.0,534.9 L490.8,534.9" fill="none" stroke="#5cb048" stroke-width="1.0" stroke-linejoin="round"/>
<path d="M297.4,456.7 L298.2,463.4 L299.3,466.8 L300.5,466.8 L300.5,468.0 L301.7,468.0 L303.4,470.3 L304.5,473.8 L306.3,475.5 L307.4,478.4 L308.6,483.0 L309.7,487.6 L310.9,492.2 L312.6,495.7 L314.3,499.1 L316.1,501.4 L317.8,502.6 L318.5,503.0 L319.2,506.2 L320.0,510.8 L320.8,514.6 L330.0,514.6 L330.8,517.9 L346.2,518.2 L346.9,521.5 L359.2,521.5 L360.0,525.9 L385.4,526.2 L386.3,531.5 L458.5,531.5 L458.8,544.8 L469.8,544.8 L469.8,545.2 L480.8,545.2 L480.8,572.8" fill="none" stroke="#34548f" stroke-width="1.0" stroke-linejoin="round"/>
<path d="M297.4,456.7 L299.3,457.6 L299.9,459.9 L301.0,459.9 L301.0,460.8 L302.2,460.8 L304.5,460.5 L305.7,461.1 L307.4,462.0 L309.1,462.8 L310.3,462.8 L310.3,464.5 L311.5,464.5 L312.6,464.5 L312.6,466.3 L313.8,466.3 L315.0,466.3 L315.0,468.6 L316.1,468.6 L320.7,468.6 L322.4,468.6 L322.4,469.7 L324.1,469.7 L325.9,469.7 L325.9,470.9 L327.6,470.9 L334.5,471.2 L336.3,473.2 L336.8,474.9 L341.4,475.1 L342.5,475.1 L342.5,476.4 L343.7,476.4 L344.9,476.4 L344.9,477.8 L346.1,477.8 L348.1,477.8 L348.1,478.5 L350.0,478.5 L354.6,478.8 L355.8,478.8 L355.8,479.8 L358.1,479.8 L358.1,480.8 L359.2,480.8 L360.8,480.8 L360.8,481.6 L363.8,481.6 L363.8,482.3 L365.4,482.3 L367.7,482.3 L367.7,483.1 L370.0,483.1 L373.1,483.1 L373.1,483.8 L376.2,483.8 L381.5,483.8 L381.5,484.3 L386.9,484.3 L396.2,484.6 L402.4,484.6 L402.4,485.4 L408.5,485.4 L411.6,485.4 L411.6,485.8 L414.6,485.8 L416.1,485.8 L416.1,487.7 L417.7,487.7 L418.9,487.7 L418.9,488.3 L420.0,488.3 L428.7,488.6 L429.8,490.6 L431.5,492.3 L432.6,492.3 L432.6,493.5 L433.8,493.5 L435.6,493.5 L435.6,494.4 L437.3,494.4 L439.6,494.4 L439.6,494.8 L441.9,494.8 L443.6,496.3 L444.8,498.6 L446.0,498.6 L446.0,501.0 L447.1,501.0 L448.2,501.0 L448.2,502.1 L449.4,502.1 L450.6,505.0 L466.1,505.0" fill="none" stroke="#44acd0" stroke-width="1.0" stroke-linejoin="round"/>
<path d="M297.4,456.7 L299.3,457.6 L299.9,459.9 L301.0,459.9 L301.0,460.8 L302.2,460.8 L304.5,460.5 L305.7,461.1 L307.4,462.0 L309.1,462.8 L310.3,462.8 L310.3,464.5 L311.5,464.5 L312.6,464.5 L312.6,466.3 L313.8,466.3 L316.1,469.1 L317.8,472.0 L319.5,472.8 L327.6,472.8 L333.4,473.2 L335.1,474.3 L336.8,475.1 L341.4,475.1 L342.5,475.1 L342.5,476.6 L343.7,476.6 L344.9,476.6 L344.9,478.6 L346.1,478.6 L347.8,478.6 L347.8,479.3 L349.5,479.3 L352.1,479.3 L352.1,480.0 L354.6,480.0 L356.9,480.0 L356.9,480.8 L359.2,480.8 L360.4,480.8 L360.4,481.3 L362.6,481.3 L362.6,481.8 L363.8,481.8 L365.8,481.8 L365.8,483.8 L367.7,483.8 L369.6,483.8 L369.6,484.3 L371.5,484.3 L373.9,484.3 L373.9,484.9 L376.2,484.9 L378.5,484.9 L378.5,485.4 L380.8,485.4 L383.9,485.4 L383.9,485.8 L386.9,485.8 L388.4,485.8 L388.4,486.5 L390.0,486.5 L391.6,486.5 L391.6,487.7 L393.1,487.7 L394.6,487.7 L394.6,489.2 L396.2,489.2 L397.7,489.2 L397.7,490.8 L399.2,490.8 L400.8,490.8 L400.8,491.5 L402.3,491.5 L406.1,491.5 L406.1,492.3 L410.0,492.3 L411.6,492.3 L411.6,493.5 L413.1,493.5 L414.2,493.5 L414.2,494.2 L415.4,494.2 L416.9,496.2 L431.5,496.3 L432.1,498.6 L462.7,498.6" fill="none" stroke="#b01a3a" stroke-width="1.1" stroke-linejoin="round"/>
<line x1="435.0" y1="497.4" x2="435.0" y2="499.8" stroke="#b01a3a" stroke-width="0.7"/>
<line x1="438.0" y1="497.4" x2="438.0" y2="499.8" stroke="#b01a3a" stroke-width="0.7"/>
<line x1="441.0" y1="497.4" x2="441.0" y2="499.8" stroke="#b01a3a" stroke-width="0.7"/>
<line x1="444.0" y1="497.4" x2="444.0" y2="499.8" stroke="#b01a3a" stroke-width="0.7"/>
<line x1="447.0" y1="497.4" x2="447.0" y2="499.8" stroke="#b01a3a" stroke-width="0.7"/>
<line x1="450.0" y1="497.4" x2="450.0" y2="499.8" stroke="#b01a3a" stroke-width="0.7"/>
<line x1="453.0" y1="497.4" x2="453.0" y2="499.8" stroke="#b01a3a" stroke-width="0.7"/>
<line x1="456.0" y1="497.4" x2="456.0" y2="499.8" stroke="#b01a3a" stroke-width="0.7"/>
<line x1="459.0" y1="497.4" x2="459.0" y2="499.8" stroke="#b01a3a" stroke-width="0.7"/>
<line x1="462.0" y1="497.4" x2="462.0" y2="499.8" stroke="#b01a3a" stroke-width="0.7"/>
<line x1="453.0" y1="503.8" x2="453.0" y2="506.2" stroke="#44acd0" stroke-width="0.7"/>
<line x1="456.0" y1="503.8" x2="456.0" y2="506.2" stroke="#44acd0" stroke-width="0.7"/>
<line x1="459.0" y1="503.8" x2="459.0" y2="506.2" stroke="#44acd0" stroke-width="0.7"/>
<line x1="462.0" y1="503.8" x2="462.0" y2="506.2" stroke="#44acd0" stroke-width="0.7"/>
<line x1="465.0" y1="503.8" x2="465.0" y2="506.2" stroke="#44acd0" stroke-width="0.7"/>
<line x1="400.0" y1="530.3" x2="400.0" y2="532.7" stroke="#34548f" stroke-width="0.7"/>
<line x1="420.0" y1="530.3" x2="420.0" y2="532.7" stroke="#34548f" stroke-width="0.7"/>
<line x1="440.0" y1="530.3" x2="440.0" y2="532.7" stroke="#34548f" stroke-width="0.7"/>
<line x1="450.0" y1="530.3" x2="450.0" y2="532.7" stroke="#34548f" stroke-width="0.7"/>
<line x1="470.0" y1="544.0" x2="470.0" y2="546.4" stroke="#34548f" stroke-width="0.7"/>
<line x1="478.0" y1="544.0" x2="478.0" y2="546.4" stroke="#34548f" stroke-width="0.7"/>
</g>
<rect x="0.75" y="0.75" width="518.5" height="645.5" fill="none" stroke="#555" stroke-width="1.5"/>
</svg>
</body></html>
